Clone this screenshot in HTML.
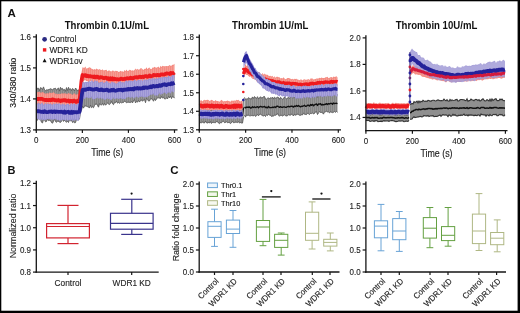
<!DOCTYPE html>
<html><head><meta charset="utf-8"><style>
html,body{margin:0;padding:0;width:520px;height:313px;overflow:hidden;background:#fff}
text{font-family:"Liberation Sans", sans-serif}
svg{will-change:transform}
</style></head><body>
<svg width="520" height="313" viewBox="0 0 520 313" style="position:absolute;left:0;top:0"><g font-family='"Liberation Sans", sans-serif'><rect x="0" y="0" width="520" height="313" fill="#fff"/><polygon points="36.50,90.06 37.50,88.18 38.50,88.26 39.50,90.55 40.50,87.62 41.50,88.07 42.50,89.52 43.50,86.90 44.50,89.90 45.50,90.73 46.50,89.71 47.50,89.99 48.50,89.57 49.50,89.32 50.50,88.71 51.50,89.02 52.50,90.18 53.50,88.70 54.50,88.49 55.50,88.25 56.50,90.32 57.50,88.84 58.50,87.84 59.50,90.95 60.50,87.34 61.50,89.09 62.50,88.38 63.50,90.08 64.50,89.38 65.50,91.20 66.50,87.61 67.50,90.43 68.50,87.30 69.50,89.68 70.50,88.63 71.50,90.52 72.50,88.54 73.50,89.25 74.50,90.99 75.50,88.01 76.50,89.22 77.50,90.90 78.50,89.83 79.50,90.20 80.50,91.02 81.50,87.99 82.50,83.97 83.50,82.76 84.50,84.38 85.50,84.15 86.50,85.57 87.50,84.70 88.50,85.07 89.50,83.58 90.50,83.45 91.50,83.69 92.50,83.54 93.50,82.90 94.50,82.72 95.50,82.98 96.50,82.20 97.50,81.46 98.50,81.60 99.50,82.34 100.50,81.93 101.50,81.35 102.50,80.88 103.50,80.44 104.50,81.44 105.50,81.67 106.50,81.63 107.50,80.63 108.50,80.51 109.50,81.43 110.50,80.37 111.50,80.89 112.50,80.27 113.50,80.68 114.50,80.99 115.50,80.02 116.50,79.48 117.50,80.63 118.50,78.74 119.50,80.19 120.50,80.67 121.50,80.11 122.50,78.91 123.50,79.83 124.50,78.68 125.50,79.93 126.50,79.59 127.50,78.55 128.50,79.24 129.50,79.45 130.50,77.86 131.50,78.39 132.50,77.78 133.50,78.98 134.50,78.49 135.50,78.04 136.50,77.28 137.50,76.76 138.50,76.62 139.50,76.85 140.50,77.57 141.50,78.32 142.50,79.26 143.50,78.71 144.50,77.72 145.50,77.53 146.50,77.28 147.50,78.25 148.50,76.04 149.50,77.51 150.50,76.58 151.50,75.69 152.50,75.01 153.50,78.13 154.50,74.99 155.50,76.07 156.50,76.87 157.50,76.77 158.50,76.15 159.50,75.12 160.50,76.71 161.50,75.63 162.50,75.93 163.50,74.46 164.50,76.09 165.50,76.08 166.50,74.30 167.50,75.06 168.50,75.11 169.50,75.20 170.50,75.05 171.50,74.16 172.50,74.65 173.50,75.00 174.50,72.63 174.50,98.21 173.50,97.01 172.50,96.38 171.50,98.58 170.50,95.95 169.50,97.93 168.50,96.35 167.50,98.98 166.50,97.97 165.50,98.84 164.50,98.91 163.50,97.28 162.50,98.08 161.50,96.52 160.50,98.46 159.50,98.08 158.50,97.84 157.50,97.78 156.50,99.06 155.50,100.52 154.50,98.71 153.50,101.24 152.50,99.49 151.50,98.91 150.50,98.78 149.50,100.97 148.50,101.02 147.50,99.54 146.50,98.28 145.50,102.70 144.50,99.39 143.50,100.03 142.50,101.27 141.50,100.03 140.50,100.46 139.50,102.07 138.50,100.38 137.50,102.14 136.50,101.30 135.50,102.96 134.50,99.53 133.50,100.89 132.50,102.91 131.50,101.70 130.50,102.54 129.50,102.44 128.50,102.29 127.50,102.36 126.50,102.80 125.50,101.63 124.50,101.13 123.50,102.47 122.50,102.55 121.50,102.85 120.50,102.33 119.50,103.29 118.50,102.46 117.50,103.15 116.50,101.14 115.50,102.66 114.50,102.52 113.50,104.68 112.50,103.71 111.50,101.49 110.50,103.28 109.50,104.60 108.50,103.94 107.50,103.14 106.50,104.08 105.50,105.21 104.50,103.39 103.50,105.31 102.50,103.30 101.50,105.11 100.50,104.61 99.50,103.82 98.50,107.19 97.50,105.39 96.50,103.92 95.50,104.17 94.50,105.45 93.50,107.70 92.50,106.85 91.50,107.64 90.50,105.09 89.50,108.07 88.50,107.03 87.50,106.67 86.50,106.27 85.50,106.04 84.50,106.05 83.50,108.14 82.50,106.18 81.50,110.17 80.50,112.22 79.50,118.94 78.50,119.92 77.50,119.55 76.50,119.31 75.50,122.59 74.50,122.82 73.50,121.76 72.50,122.53 71.50,120.31 70.50,120.92 69.50,119.41 68.50,122.53 67.50,121.26 66.50,122.31 65.50,121.40 64.50,119.99 63.50,121.42 62.50,118.96 61.50,121.30 60.50,122.47 59.50,122.04 58.50,121.44 57.50,120.98 56.50,122.35 55.50,121.55 54.50,118.67 53.50,121.38 52.50,123.21 51.50,122.56 50.50,120.49 49.50,120.37 48.50,120.57 47.50,119.17 46.50,121.41 45.50,121.82 44.50,119.70 43.50,119.47 42.50,122.95 41.50,122.28 40.50,119.43 39.50,119.32 38.50,118.52 37.50,119.80 36.50,121.30" fill="#858585" opacity="1.0"/><path d="M37.50,88.98V119.00M39.50,91.35V118.52M41.50,88.87V121.48M43.50,87.70V118.67M45.50,91.53V121.02M47.50,90.79V118.37M49.50,90.12V119.57M51.50,89.82V121.76M53.50,89.50V120.58M55.50,89.05V120.75M57.50,89.64V120.18M59.50,91.75V121.24M61.50,89.89V120.50M63.50,90.88V120.62M65.50,92.00V120.60M67.50,91.23V120.46M69.50,90.48V118.61M71.50,91.32V119.51M73.50,90.05V120.96M75.50,88.81V121.79M77.50,91.70V118.75M79.50,91.00V118.14M81.50,88.79V109.37M83.50,83.56V107.34M85.50,84.95V105.24M87.50,85.50V105.87M89.50,84.38V107.27M91.50,84.49V106.84M93.50,83.70V106.90M95.50,83.78V103.37M97.50,82.26V104.59M99.50,83.14V103.02M101.50,82.15V104.31M103.50,81.24V104.51M105.50,82.47V104.41M107.50,81.43V102.34M109.50,82.23V103.80M111.50,81.69V100.69M113.50,81.48V103.88M115.50,80.82V101.86M117.50,81.43V102.35M119.50,80.99V102.49M121.50,80.91V102.05M123.50,80.63V101.67M125.50,80.73V100.83M127.50,79.35V101.56M129.50,80.25V101.64M131.50,79.19V100.90M133.50,79.78V100.09M135.50,78.84V102.16M137.50,77.56V101.34M139.50,77.65V101.27M141.50,79.12V99.23M143.50,79.51V99.23M145.50,78.33V101.90M147.50,79.05V98.74M149.50,78.31V100.17M151.50,76.49V98.11M153.50,78.93V100.44M155.50,76.87V99.72M157.50,77.57V96.98M159.50,75.92V97.28M161.50,76.43V95.72M163.50,75.26V96.48M165.50,76.88V98.04M167.50,75.86V98.18M169.50,76.00V97.13M171.50,74.96V97.78M173.50,75.80V96.21" stroke="#ddd" stroke-width="0.6" opacity="0.35"/><path d="M36.50,90.06 L37.50,88.18 L38.50,88.26 L39.50,90.55 L40.50,87.62 L41.50,88.07 L42.50,89.52 L43.50,86.90 L44.50,89.90 L45.50,90.73 L46.50,89.71 L47.50,89.99 L48.50,89.57 L49.50,89.32 L50.50,88.71 L51.50,89.02 L52.50,90.18 L53.50,88.70 L54.50,88.49 L55.50,88.25 L56.50,90.32 L57.50,88.84 L58.50,87.84 L59.50,90.95 L60.50,87.34 L61.50,89.09 L62.50,88.38 L63.50,90.08 L64.50,89.38 L65.50,91.20 L66.50,87.61 L67.50,90.43 L68.50,87.30 L69.50,89.68 L70.50,88.63 L71.50,90.52 L72.50,88.54 L73.50,89.25 L74.50,90.99 L75.50,88.01 L76.50,89.22 L77.50,90.90 L78.50,89.83 L79.50,90.20 L80.50,91.02 L81.50,87.99 L82.50,83.97 L83.50,82.76 L84.50,84.38 L85.50,84.15 L86.50,85.57 L87.50,84.70 L88.50,85.07 L89.50,83.58 L90.50,83.45 L91.50,83.69 L92.50,83.54 L93.50,82.90 L94.50,82.72 L95.50,82.98 L96.50,82.20 L97.50,81.46 L98.50,81.60 L99.50,82.34 L100.50,81.93 L101.50,81.35 L102.50,80.88 L103.50,80.44 L104.50,81.44 L105.50,81.67 L106.50,81.63 L107.50,80.63 L108.50,80.51 L109.50,81.43 L110.50,80.37 L111.50,80.89 L112.50,80.27 L113.50,80.68 L114.50,80.99 L115.50,80.02 L116.50,79.48 L117.50,80.63 L118.50,78.74 L119.50,80.19 L120.50,80.67 L121.50,80.11 L122.50,78.91 L123.50,79.83 L124.50,78.68 L125.50,79.93 L126.50,79.59 L127.50,78.55 L128.50,79.24 L129.50,79.45 L130.50,77.86 L131.50,78.39 L132.50,77.78 L133.50,78.98 L134.50,78.49 L135.50,78.04 L136.50,77.28 L137.50,76.76 L138.50,76.62 L139.50,76.85 L140.50,77.57 L141.50,78.32 L142.50,79.26 L143.50,78.71 L144.50,77.72 L145.50,77.53 L146.50,77.28 L147.50,78.25 L148.50,76.04 L149.50,77.51 L150.50,76.58 L151.50,75.69 L152.50,75.01 L153.50,78.13 L154.50,74.99 L155.50,76.07 L156.50,76.87 L157.50,76.77 L158.50,76.15 L159.50,75.12 L160.50,76.71 L161.50,75.63 L162.50,75.93 L163.50,74.46 L164.50,76.09 L165.50,76.08 L166.50,74.30 L167.50,75.06 L168.50,75.11 L169.50,75.20 L170.50,75.05 L171.50,74.16 L172.50,74.65 L173.50,75.00 L174.50,72.63" fill="none" stroke="#5a5a5a" stroke-width="0.9"/><path d="M36.50,121.30 L37.50,119.80 L38.50,118.52 L39.50,119.32 L40.50,119.43 L41.50,122.28 L42.50,122.95 L43.50,119.47 L44.50,119.70 L45.50,121.82 L46.50,121.41 L47.50,119.17 L48.50,120.57 L49.50,120.37 L50.50,120.49 L51.50,122.56 L52.50,123.21 L53.50,121.38 L54.50,118.67 L55.50,121.55 L56.50,122.35 L57.50,120.98 L58.50,121.44 L59.50,122.04 L60.50,122.47 L61.50,121.30 L62.50,118.96 L63.50,121.42 L64.50,119.99 L65.50,121.40 L66.50,122.31 L67.50,121.26 L68.50,122.53 L69.50,119.41 L70.50,120.92 L71.50,120.31 L72.50,122.53 L73.50,121.76 L74.50,122.82 L75.50,122.59 L76.50,119.31 L77.50,119.55 L78.50,119.92 L79.50,118.94 L80.50,112.22 L81.50,110.17 L82.50,106.18 L83.50,108.14 L84.50,106.05 L85.50,106.04 L86.50,106.27 L87.50,106.67 L88.50,107.03 L89.50,108.07 L90.50,105.09 L91.50,107.64 L92.50,106.85 L93.50,107.70 L94.50,105.45 L95.50,104.17 L96.50,103.92 L97.50,105.39 L98.50,107.19 L99.50,103.82 L100.50,104.61 L101.50,105.11 L102.50,103.30 L103.50,105.31 L104.50,103.39 L105.50,105.21 L106.50,104.08 L107.50,103.14 L108.50,103.94 L109.50,104.60 L110.50,103.28 L111.50,101.49 L112.50,103.71 L113.50,104.68 L114.50,102.52 L115.50,102.66 L116.50,101.14 L117.50,103.15 L118.50,102.46 L119.50,103.29 L120.50,102.33 L121.50,102.85 L122.50,102.55 L123.50,102.47 L124.50,101.13 L125.50,101.63 L126.50,102.80 L127.50,102.36 L128.50,102.29 L129.50,102.44 L130.50,102.54 L131.50,101.70 L132.50,102.91 L133.50,100.89 L134.50,99.53 L135.50,102.96 L136.50,101.30 L137.50,102.14 L138.50,100.38 L139.50,102.07 L140.50,100.46 L141.50,100.03 L142.50,101.27 L143.50,100.03 L144.50,99.39 L145.50,102.70 L146.50,98.28 L147.50,99.54 L148.50,101.02 L149.50,100.97 L150.50,98.78 L151.50,98.91 L152.50,99.49 L153.50,101.24 L154.50,98.71 L155.50,100.52 L156.50,99.06 L157.50,97.78 L158.50,97.84 L159.50,98.08 L160.50,98.46 L161.50,96.52 L162.50,98.08 L163.50,97.28 L164.50,98.91 L165.50,98.84 L166.50,97.97 L167.50,98.98 L168.50,96.35 L169.50,97.93 L170.50,95.95 L171.50,98.58 L172.50,96.38 L173.50,97.01 L174.50,98.21" fill="none" stroke="#5a5a5a" stroke-width="0.9"/><path d="M36.50,104.72 L37.50,104.32 L38.50,104.29 L39.50,104.89 L40.50,104.88 L41.50,104.56 L42.50,105.12 L43.50,104.27 L44.50,104.43 L45.50,105.51 L46.50,105.22 L47.50,104.30 L48.50,105.29 L49.50,105.14 L50.50,105.47 L51.50,105.12 L52.50,105.37 L53.50,104.39 L54.50,104.44 L55.50,105.27 L56.50,105.60 L57.50,105.15 L58.50,105.54 L59.50,105.26 L60.50,105.24 L61.50,104.66 L62.50,104.24 L63.50,104.39 L64.50,104.41 L65.50,105.59 L66.50,105.08 L67.50,105.58 L68.50,104.77 L69.50,104.44 L70.50,104.57 L71.50,104.62 L72.50,104.79 L73.50,105.30 L74.50,105.28 L75.50,105.45 L76.50,104.83 L77.50,105.21 L78.50,104.53 L79.50,104.28 L80.50,100.70 L81.50,98.27 L82.50,93.60 L83.50,93.60 L84.50,94.35 L85.50,93.77 L86.50,94.76 L87.50,94.77 L88.50,93.94 L89.50,94.46 L90.50,93.13 L91.50,93.77 L92.50,92.88 L93.50,93.75 L94.50,93.30 L95.50,92.64 L96.50,91.67 L97.50,92.56 L98.50,92.77 L99.50,91.67 L100.50,91.22 L101.50,92.17 L102.50,91.59 L103.50,91.43 L104.50,91.39 L105.50,91.27 L106.50,91.38 L107.50,91.16 L108.50,89.67 L109.50,90.58 L110.50,90.74 L111.50,90.00 L112.50,90.63 L113.50,90.52 L114.50,90.30 L115.50,89.39 L116.50,89.29 L117.50,90.28 L118.50,89.71 L119.50,90.19 L120.50,89.51 L121.50,88.92 L122.50,88.85 L123.50,89.42 L124.50,89.36 L125.50,89.32 L126.50,89.61 L127.50,89.54 L128.50,89.26 L129.50,89.33 L130.50,88.91 L131.50,89.45 L132.50,88.85 L133.50,88.07 L134.50,87.87 L135.50,88.72 L136.50,87.80 L137.50,87.68 L138.50,87.70 L139.50,88.03 L140.50,87.41 L141.50,87.59 L142.50,88.11 L143.50,87.55 L144.50,87.75 L145.50,88.23 L146.50,86.72 L147.50,87.70 L148.50,87.03 L149.50,86.66 L150.50,87.06 L151.50,86.14 L152.50,86.07 L153.50,87.13 L154.50,85.86 L155.50,86.19 L156.50,85.98 L157.50,85.83 L158.50,85.43 L159.50,85.74 L160.50,85.94 L161.50,85.03 L162.50,86.05 L163.50,85.51 L164.50,85.93 L165.50,85.82 L166.50,85.46 L167.50,85.56 L168.50,84.74 L169.50,84.17 L170.50,84.25 L171.50,85.05 L172.50,84.03 L173.50,84.18 L174.50,83.74" fill="none" stroke="#555" stroke-width="1.0" stroke-linejoin="round" opacity="1.0"/><polygon points="36.50,92.51 37.50,92.10 38.50,92.04 39.50,91.83 40.50,92.66 41.50,92.57 42.50,91.91 43.50,92.47 44.50,93.13 45.50,93.72 46.50,93.54 47.50,92.92 48.50,93.70 49.50,92.22 50.50,93.08 51.50,92.79 52.50,93.00 53.50,91.97 54.50,93.00 55.50,93.94 56.50,93.47 57.50,94.16 58.50,93.71 59.50,94.12 60.50,93.99 61.50,93.13 62.50,93.42 63.50,93.57 64.50,93.29 65.50,93.56 66.50,93.69 67.50,93.89 68.50,92.75 69.50,93.77 70.50,93.40 71.50,94.37 72.50,95.12 73.50,93.68 74.50,93.23 75.50,94.39 76.50,94.83 77.50,93.80 78.50,94.81 79.50,93.71 80.50,82.63 81.50,72.56 82.50,67.24 83.50,67.78 84.50,67.80 85.50,66.43 86.50,68.65 87.50,68.36 88.50,67.68 89.50,67.37 90.50,67.78 91.50,68.65 92.50,69.00 93.50,69.78 94.50,68.89 95.50,69.85 96.50,68.61 97.50,69.35 98.50,69.72 99.50,68.90 100.50,69.66 101.50,70.24 102.50,69.35 103.50,70.38 104.50,70.32 105.50,70.09 106.50,69.87 107.50,71.44 108.50,70.49 109.50,70.61 110.50,71.15 111.50,71.40 112.50,70.53 113.50,70.68 114.50,71.47 115.50,70.75 116.50,71.11 117.50,71.02 118.50,72.08 119.50,71.83 120.50,70.69 121.50,71.49 122.50,71.34 123.50,71.98 124.50,69.88 125.50,71.20 126.50,69.40 127.50,71.16 128.50,70.73 129.50,69.64 130.50,69.90 131.50,70.83 132.50,70.20 133.50,70.74 134.50,69.92 135.50,68.48 136.50,69.64 137.50,68.71 138.50,69.69 139.50,69.59 140.50,68.15 141.50,68.25 142.50,69.21 143.50,69.89 144.50,68.68 145.50,69.03 146.50,67.30 147.50,69.36 148.50,67.89 149.50,67.52 150.50,68.99 151.50,69.16 152.50,67.52 153.50,67.83 154.50,66.67 155.50,67.56 156.50,67.80 157.50,67.30 158.50,66.48 159.50,68.30 160.50,65.83 161.50,66.95 162.50,65.65 163.50,66.25 164.50,66.34 165.50,66.13 166.50,66.03 167.50,66.36 168.50,66.09 169.50,65.09 170.50,65.71 171.50,65.66 172.50,64.85 173.50,64.68 174.50,63.81 174.50,77.69 173.50,79.06 172.50,78.81 171.50,78.71 170.50,78.44 169.50,79.22 168.50,79.89 167.50,78.41 166.50,79.28 165.50,79.74 164.50,79.82 163.50,80.63 162.50,79.55 161.50,79.88 160.50,80.80 159.50,80.54 158.50,80.96 157.50,79.71 156.50,81.13 155.50,81.23 154.50,81.17 153.50,81.04 152.50,80.93 151.50,81.64 150.50,81.72 149.50,80.80 148.50,81.92 147.50,82.11 146.50,81.18 145.50,81.28 144.50,81.71 143.50,82.71 142.50,82.68 141.50,83.28 140.50,82.92 139.50,81.64 138.50,83.26 137.50,82.61 136.50,82.50 135.50,82.84 134.50,83.23 133.50,84.30 132.50,83.32 131.50,84.15 130.50,82.98 129.50,83.60 128.50,83.75 127.50,83.74 126.50,84.05 125.50,84.31 124.50,84.45 123.50,84.27 122.50,84.26 121.50,84.20 120.50,84.71 119.50,84.46 118.50,85.62 117.50,84.02 116.50,85.24 115.50,85.18 114.50,83.77 113.50,85.49 112.50,84.39 111.50,84.96 110.50,84.03 109.50,85.27 108.50,83.72 107.50,84.09 106.50,83.54 105.50,83.78 104.50,83.37 103.50,83.60 102.50,83.50 101.50,82.61 100.50,82.03 99.50,83.29 98.50,82.85 97.50,81.81 96.50,82.08 95.50,83.10 94.50,82.31 93.50,82.53 92.50,81.49 91.50,82.39 90.50,81.11 89.50,82.24 88.50,82.33 87.50,81.10 86.50,81.36 85.50,80.29 84.50,80.27 83.50,81.26 82.50,80.36 81.50,87.00 80.50,96.28 79.50,106.12 78.50,106.50 77.50,106.22 76.50,106.68 75.50,106.88 74.50,106.28 73.50,106.82 72.50,107.24 71.50,106.10 70.50,107.05 69.50,106.36 68.50,105.51 67.50,106.29 66.50,106.21 65.50,105.90 64.50,105.26 63.50,105.98 62.50,105.61 61.50,106.29 60.50,106.32 59.50,106.44 58.50,105.19 57.50,106.24 56.50,106.02 55.50,106.00 54.50,105.96 53.50,105.11 52.50,104.70 51.50,105.25 50.50,106.24 49.50,105.68 48.50,105.62 47.50,105.94 46.50,105.72 45.50,105.92 44.50,105.21 43.50,105.52 42.50,104.59 41.50,104.01 40.50,104.34 39.50,103.69 38.50,104.51 37.50,103.70 36.50,105.20" fill="#f48a80" opacity="1.0"/><path d="M37.50,92.90V102.90M39.50,92.63V102.89M41.50,93.37V103.21M43.50,93.27V104.72M45.50,94.52V105.12M47.50,93.72V105.14M49.50,93.02V104.88M51.50,93.59V104.45M53.50,92.77V104.31M55.50,94.74V105.20M57.50,94.96V105.44M59.50,94.92V105.64M61.50,93.93V105.49M63.50,94.37V105.18M65.50,94.36V105.10M67.50,94.69V105.49M69.50,94.57V105.56M71.50,95.17V105.30M73.50,94.48V106.02M75.50,95.19V106.08M77.50,94.60V105.42M79.50,94.51V105.32M81.50,73.36V86.20M83.50,68.58V80.46M85.50,67.23V79.49M87.50,69.16V80.30M89.50,68.17V81.44M91.50,69.45V81.59M93.50,70.58V81.73M95.50,70.65V82.30M97.50,70.15V81.01M99.50,69.70V82.49M101.50,71.04V81.81M103.50,71.18V82.80M105.50,70.89V82.98M107.50,72.24V83.29M109.50,71.41V84.47M111.50,72.20V84.16M113.50,71.48V84.69M115.50,71.55V84.38M117.50,71.82V83.22M119.50,72.63V83.66M121.50,72.29V83.40M123.50,72.78V83.47M125.50,72.00V83.51M127.50,71.96V82.94M129.50,70.44V82.80M131.50,71.63V83.35M133.50,71.54V83.50M135.50,69.28V82.04M137.50,69.51V81.81M139.50,70.39V80.84M141.50,69.05V82.48M143.50,70.69V81.91M145.50,69.83V80.48M147.50,70.16V81.31M149.50,68.32V80.00M151.50,69.96V80.84M153.50,68.63V80.24M155.50,68.36V80.43M157.50,68.10V78.91M159.50,69.10V79.74M161.50,67.75V79.08M163.50,67.05V79.83M165.50,66.93V78.94M167.50,67.16V77.61M169.50,65.89V78.42M171.50,66.46V77.91M173.50,65.48V78.26" stroke="#fff" stroke-width="0.6" opacity="0.25"/><path d="M36.50,99.09 L37.50,98.86 L38.50,99.00 L39.50,98.84 L40.50,98.98 L41.50,98.77 L42.50,99.05 L43.50,99.73 L44.50,99.94 L45.50,100.13 L46.50,99.78 L47.50,100.13 L48.50,100.09 L49.50,99.78 L50.50,100.23 L51.50,100.11 L52.50,99.39 L53.50,99.53 L54.50,100.22 L55.50,100.11 L56.50,100.48 L57.50,100.43 L58.50,100.00 L59.50,100.63 L60.50,100.98 L61.50,100.44 L62.50,100.66 L63.50,100.16 L64.50,100.40 L65.50,100.17 L66.50,100.98 L67.50,100.83 L68.50,100.41 L69.50,101.50 L70.50,100.93 L71.50,100.98 L72.50,101.63 L73.50,100.73 L74.50,100.77 L75.50,101.73 L76.50,101.80 L77.50,100.79 L78.50,101.20 L79.50,101.28 L80.50,91.28 L81.50,80.97 L82.50,75.00 L83.50,75.95 L84.50,75.36 L85.50,75.07 L86.50,76.17 L87.50,75.76 L88.50,76.42 L89.50,76.16 L90.50,76.20 L91.50,76.56 L92.50,76.59 L93.50,77.06 L94.50,76.50 L95.50,77.39 L96.50,76.72 L97.50,76.70 L98.50,77.72 L99.50,77.86 L100.50,77.07 L101.50,77.45 L102.50,77.49 L103.50,78.21 L104.50,78.08 L105.50,77.66 L106.50,77.87 L107.50,78.89 L108.50,78.29 L109.50,79.28 L110.50,78.25 L111.50,79.35 L112.50,78.33 L113.50,79.37 L114.50,78.72 L115.50,79.10 L116.50,79.39 L117.50,79.12 L118.50,79.56 L119.50,79.45 L120.50,78.95 L121.50,78.67 L122.50,79.12 L123.50,79.04 L124.50,78.76 L125.50,79.16 L126.50,78.28 L127.50,78.24 L128.50,78.57 L129.50,78.46 L130.50,77.59 L131.50,78.25 L132.50,78.21 L133.50,78.38 L134.50,77.38 L135.50,77.35 L136.50,77.11 L137.50,77.57 L138.50,77.14 L139.50,76.73 L140.50,76.91 L141.50,77.21 L142.50,76.61 L143.50,76.99 L144.50,76.44 L145.50,76.07 L146.50,76.17 L147.50,76.79 L148.50,76.51 L149.50,75.47 L150.50,76.40 L151.50,76.25 L152.50,76.04 L153.50,74.99 L154.50,75.14 L155.50,75.12 L156.50,75.34 L157.50,74.87 L158.50,75.28 L159.50,75.39 L160.50,74.71 L161.50,74.47 L162.50,74.47 L163.50,74.71 L164.50,74.54 L165.50,73.87 L166.50,73.45 L167.50,73.52 L168.50,73.76 L169.50,74.03 L170.50,72.94 L171.50,73.56 L172.50,73.08 L173.50,73.34 L174.50,72.46" fill="none" stroke="#ee1a1f" stroke-width="3.8" stroke-linejoin="round" opacity="1.0"/><polygon points="36.50,103.84 37.50,103.66 38.50,102.40 39.50,103.57 40.50,104.13 41.50,102.87 42.50,103.01 43.50,105.05 44.50,103.83 45.50,102.99 46.50,104.28 47.50,103.24 48.50,103.67 49.50,104.34 50.50,103.35 51.50,104.44 52.50,104.70 53.50,102.98 54.50,104.17 55.50,103.74 56.50,103.19 57.50,104.10 58.50,103.66 59.50,103.24 60.50,104.48 61.50,104.68 62.50,103.40 63.50,104.67 64.50,103.47 65.50,105.46 66.50,104.04 67.50,103.92 68.50,103.80 69.50,105.41 70.50,103.91 71.50,102.96 72.50,104.59 73.50,103.41 74.50,103.61 75.50,104.57 76.50,104.68 77.50,103.72 78.50,103.81 79.50,103.30 80.50,97.02 81.50,89.42 82.50,81.61 83.50,82.66 84.50,82.13 85.50,81.87 86.50,82.00 87.50,81.79 88.50,81.92 89.50,80.14 90.50,82.02 91.50,80.19 92.50,80.74 93.50,82.29 94.50,80.50 95.50,80.49 96.50,81.27 97.50,80.39 98.50,82.68 99.50,82.74 100.50,82.09 101.50,82.07 102.50,81.31 103.50,83.00 104.50,82.41 105.50,81.95 106.50,80.67 107.50,81.45 108.50,82.65 109.50,82.70 110.50,83.46 111.50,81.74 112.50,82.09 113.50,82.60 114.50,82.57 115.50,83.48 116.50,83.40 117.50,82.88 118.50,81.81 119.50,81.71 120.50,80.97 121.50,82.51 122.50,81.95 123.50,82.61 124.50,82.21 125.50,80.84 126.50,80.57 127.50,81.77 128.50,80.38 129.50,80.56 130.50,80.68 131.50,80.72 132.50,81.20 133.50,80.87 134.50,79.60 135.50,80.24 136.50,81.08 137.50,80.31 138.50,80.02 139.50,79.97 140.50,80.53 141.50,79.37 142.50,81.34 143.50,79.03 144.50,80.30 145.50,79.83 146.50,79.18 147.50,79.88 148.50,78.66 149.50,79.10 150.50,78.25 151.50,79.87 152.50,77.25 153.50,78.89 154.50,78.24 155.50,79.25 156.50,77.22 157.50,79.15 158.50,77.35 159.50,77.96 160.50,77.24 161.50,77.39 162.50,77.39 163.50,76.93 164.50,76.66 165.50,77.12 166.50,76.99 167.50,77.32 168.50,75.52 169.50,76.13 170.50,77.02 171.50,76.20 172.50,74.87 173.50,75.31 174.50,74.78 174.50,91.24 173.50,92.72 172.50,91.54 171.50,91.41 170.50,93.71 169.50,92.40 168.50,92.52 167.50,93.04 166.50,94.54 165.50,93.29 164.50,92.54 163.50,93.22 162.50,93.96 161.50,94.00 160.50,94.92 159.50,93.03 158.50,94.18 157.50,95.90 156.50,95.30 155.50,95.41 154.50,95.72 153.50,93.81 152.50,94.55 151.50,94.98 150.50,94.39 149.50,95.63 148.50,96.01 147.50,97.34 146.50,96.70 145.50,96.99 144.50,97.57 143.50,97.23 142.50,96.70 141.50,96.46 140.50,96.88 139.50,96.73 138.50,97.93 137.50,97.32 136.50,96.56 135.50,97.41 134.50,97.58 133.50,98.67 132.50,96.67 131.50,97.43 130.50,97.70 129.50,97.46 128.50,96.69 127.50,97.83 126.50,97.19 125.50,98.98 124.50,99.03 123.50,98.77 122.50,99.09 121.50,98.82 120.50,98.07 119.50,98.69 118.50,98.96 117.50,98.62 116.50,98.23 115.50,99.00 114.50,99.27 113.50,97.76 112.50,98.81 111.50,99.83 110.50,100.07 109.50,98.71 108.50,99.30 107.50,98.33 106.50,98.69 105.50,99.71 104.50,99.73 103.50,99.12 102.50,98.17 101.50,99.14 100.50,97.57 99.50,98.48 98.50,98.80 97.50,97.48 96.50,98.32 95.50,98.75 94.50,99.05 93.50,99.52 92.50,98.98 91.50,97.09 90.50,97.97 89.50,97.97 88.50,98.13 87.50,97.69 86.50,97.26 85.50,97.91 84.50,98.98 83.50,98.80 82.50,98.60 81.50,106.24 80.50,114.19 79.50,119.21 78.50,120.42 77.50,120.91 76.50,119.73 75.50,119.84 74.50,120.90 73.50,119.42 72.50,121.45 71.50,119.56 70.50,120.79 69.50,120.11 68.50,120.36 67.50,120.78 66.50,119.37 65.50,120.90 64.50,119.84 63.50,119.94 62.50,119.84 61.50,120.50 60.50,120.34 59.50,120.89 58.50,119.52 57.50,120.60 56.50,119.39 55.50,119.22 54.50,119.20 53.50,119.64 52.50,119.73 51.50,119.17 50.50,119.83 49.50,119.08 48.50,119.36 47.50,119.34 46.50,119.72 45.50,119.57 44.50,120.15 43.50,119.77 42.50,120.27 41.50,119.05 40.50,120.20 39.50,120.32 38.50,119.29 37.50,118.68 36.50,120.05" fill="#9a93d4" opacity="1.0"/><path d="M37.50,104.46V117.88M39.50,104.37V119.52M41.50,103.67V118.25M43.50,105.85V118.97M45.50,103.79V118.77M47.50,104.04V118.54M49.50,105.14V118.28M51.50,105.24V118.37M53.50,103.78V118.84M55.50,104.54V118.42M57.50,104.90V119.80M59.50,104.04V120.09M61.50,105.48V119.70M63.50,105.47V119.14M65.50,106.26V120.10M67.50,104.72V119.98M69.50,106.21V119.31M71.50,103.76V118.76M73.50,104.21V118.62M75.50,105.37V119.04M77.50,104.52V120.11M79.50,104.10V118.41M81.50,90.22V105.44M83.50,83.46V98.00M85.50,82.67V97.11M87.50,82.59V96.89M89.50,80.94V97.17M91.50,80.99V96.29M93.50,83.09V98.72M95.50,81.29V97.95M97.50,81.19V96.68M99.50,83.54V97.68M101.50,82.87V98.34M103.50,83.80V98.32M105.50,82.75V98.91M107.50,82.25V97.53M109.50,83.50V97.91M111.50,82.54V99.03M113.50,83.40V96.96M115.50,84.28V98.20M117.50,83.68V97.82M119.50,82.51V97.89M121.50,83.31V98.02M123.50,83.41V97.97M125.50,81.64V98.18M127.50,82.57V97.03M129.50,81.36V96.66M131.50,81.52V96.63M133.50,81.67V97.87M135.50,81.04V96.61M137.50,81.11V96.52M139.50,80.77V95.93M141.50,80.17V95.66M143.50,79.83V96.43M145.50,80.63V96.19M147.50,80.68V96.54M149.50,79.90V94.83M151.50,80.67V94.18M153.50,79.69V93.01M155.50,80.05V94.61M157.50,79.95V95.10M159.50,78.76V92.23M161.50,78.19V93.20M163.50,77.73V92.42M165.50,77.92V92.49M167.50,78.12V92.24M169.50,76.93V91.60M171.50,77.00V90.61M173.50,76.11V91.92" stroke="#fff" stroke-width="0.6" opacity="0.25"/><path d="M36.50,111.59 L37.50,111.17 L38.50,111.14 L39.50,111.37 L40.50,111.61 L41.50,111.81 L42.50,111.62 L43.50,112.17 L44.50,111.24 L45.50,111.82 L46.50,112.18 L47.50,112.10 L48.50,111.90 L49.50,111.65 L50.50,111.54 L51.50,111.50 L52.50,112.09 L53.50,111.55 L54.50,111.40 L55.50,112.01 L56.50,111.57 L57.50,111.73 L58.50,111.79 L59.50,111.94 L60.50,111.90 L61.50,111.73 L62.50,112.02 L63.50,112.59 L64.50,111.57 L65.50,112.67 L66.50,112.05 L67.50,111.96 L68.50,111.78 L69.50,112.83 L70.50,112.82 L71.50,111.78 L72.50,112.82 L73.50,111.95 L74.50,112.27 L75.50,112.03 L76.50,112.45 L77.50,112.15 L78.50,111.93 L79.50,111.95 L80.50,105.12 L81.50,97.27 L82.50,89.91 L83.50,89.74 L84.50,89.62 L85.50,89.79 L86.50,89.24 L87.50,89.01 L88.50,89.04 L89.50,88.59 L90.50,89.16 L91.50,89.06 L92.50,89.69 L93.50,89.70 L94.50,89.37 L95.50,89.04 L96.50,88.98 L97.50,89.15 L98.50,90.00 L99.50,90.18 L100.50,89.75 L101.50,89.42 L102.50,90.07 L103.50,90.26 L104.50,90.14 L105.50,90.10 L106.50,89.62 L107.50,90.03 L108.50,90.80 L109.50,90.59 L110.50,90.59 L111.50,90.00 L112.50,90.40 L113.50,89.70 L114.50,90.44 L115.50,90.77 L116.50,90.48 L117.50,90.13 L118.50,89.97 L119.50,89.95 L120.50,89.81 L121.50,89.73 L122.50,90.50 L123.50,89.67 L124.50,89.92 L125.50,89.68 L126.50,89.35 L127.50,89.59 L128.50,88.92 L129.50,89.41 L130.50,88.89 L131.50,89.32 L132.50,88.82 L133.50,89.42 L134.50,88.26 L135.50,88.71 L136.50,88.32 L137.50,88.00 L138.50,88.68 L139.50,88.07 L140.50,88.58 L141.50,88.26 L142.50,88.41 L143.50,87.49 L144.50,87.97 L145.50,87.32 L146.50,87.55 L147.50,87.82 L148.50,87.35 L149.50,87.24 L150.50,86.48 L151.50,87.18 L152.50,86.08 L153.50,85.98 L154.50,86.50 L155.50,86.41 L156.50,85.83 L157.50,86.32 L158.50,86.21 L159.50,85.22 L160.50,85.84 L161.50,85.65 L162.50,84.61 L163.50,84.58 L164.50,84.19 L165.50,84.87 L166.50,85.00 L167.50,84.42 L168.50,84.04 L169.50,84.20 L170.50,84.23 L171.50,83.24 L172.50,83.79 L173.50,83.30 L174.50,82.77" fill="none" stroke="#25229a" stroke-width="3.8" stroke-linejoin="round" opacity="1.0"/><line x1="36.30" y1="34.30" x2="36.30" y2="130.55" stroke="#151515" stroke-width="1.3"/><line x1="33.00" y1="36.90" x2="36.30" y2="36.90" stroke="#151515" stroke-width="1.2"/><text x="31.00" y="39.90" font-size="8.96" text-anchor="end" font-weight="normal" fill="#222" textLength="11.12" lengthAdjust="spacingAndGlyphs" stroke="#222" stroke-width="0.12">1.6</text><line x1="33.00" y1="67.90" x2="36.30" y2="67.90" stroke="#151515" stroke-width="1.2"/><text x="31.00" y="70.90" font-size="8.96" text-anchor="end" font-weight="normal" fill="#222" textLength="11.12" lengthAdjust="spacingAndGlyphs" stroke="#222" stroke-width="0.12">1.5</text><line x1="33.00" y1="98.90" x2="36.30" y2="98.90" stroke="#151515" stroke-width="1.2"/><text x="31.00" y="101.90" font-size="8.96" text-anchor="end" font-weight="normal" fill="#222" textLength="11.12" lengthAdjust="spacingAndGlyphs" stroke="#222" stroke-width="0.12">1.4</text><line x1="33.00" y1="129.90" x2="36.30" y2="129.90" stroke="#151515" stroke-width="1.2"/><text x="31.00" y="132.90" font-size="8.96" text-anchor="end" font-weight="normal" fill="#222" textLength="11.12" lengthAdjust="spacingAndGlyphs" stroke="#222" stroke-width="0.12">1.3</text><line x1="35.55" y1="129.90" x2="177.50" y2="129.90" stroke="#151515" stroke-width="1.3"/><line x1="36.30" y1="129.90" x2="36.30" y2="132.90" stroke="#151515" stroke-width="1.2"/><text x="36.30" y="142.90" font-size="8.96" text-anchor="middle" font-weight="normal" fill="#222" textLength="4.45" lengthAdjust="spacingAndGlyphs" stroke="#222" stroke-width="0.12">0</text><line x1="82.37" y1="129.90" x2="82.37" y2="132.90" stroke="#151515" stroke-width="1.2"/><text x="82.37" y="142.90" font-size="8.96" text-anchor="middle" font-weight="normal" fill="#222" textLength="13.35" lengthAdjust="spacingAndGlyphs" stroke="#222" stroke-width="0.12">200</text><line x1="128.43" y1="129.90" x2="128.43" y2="132.90" stroke="#151515" stroke-width="1.2"/><text x="128.43" y="142.90" font-size="8.96" text-anchor="middle" font-weight="normal" fill="#222" textLength="13.35" lengthAdjust="spacingAndGlyphs" stroke="#222" stroke-width="0.12">400</text><line x1="174.50" y1="129.90" x2="174.50" y2="132.90" stroke="#151515" stroke-width="1.2"/><text x="174.50" y="142.90" font-size="8.96" text-anchor="middle" font-weight="normal" fill="#222" textLength="13.35" lengthAdjust="spacingAndGlyphs" stroke="#222" stroke-width="0.12">600</text><text x="107.20" y="156.20" font-size="10.37" text-anchor="middle" font-weight="normal" fill="#222" textLength="32.08" lengthAdjust="spacingAndGlyphs" stroke="#222" stroke-width="0.15">Time (s)</text><text x="0" y="0" font-size="9.35" text-anchor="middle" font-weight="normal" fill="#222" textLength="50.12" lengthAdjust="spacingAndGlyphs" transform="translate(16.2,82.7) rotate(-90)" stroke="#222" stroke-width="0.12">340/380 ratio</text><text x="106.90" y="28.50" font-size="10.27" text-anchor="middle" font-weight="bold" fill="#111" textLength="84.27" lengthAdjust="spacingAndGlyphs" >Thrombin 0.1U/mL</text><circle cx="44.6" cy="39.3" r="2.35" fill="#2a2a82"/><text x="49.50" y="42.20" font-size="8.80" text-anchor="start" font-weight="normal" fill="#222" textLength="26.76" lengthAdjust="spacingAndGlyphs" stroke="#222" stroke-width="0.12">Control</text><rect x="42.9" y="48.2" width="3.4" height="3.4" fill="#ee1a1f"/><text x="49.50" y="52.80" font-size="8.80" text-anchor="start" font-weight="normal" fill="#222" textLength="38.27" lengthAdjust="spacingAndGlyphs" stroke="#222" stroke-width="0.12">WDR1 KD</text><polygon points="42.6,62.2 46.6,62.2 44.6,58.6" fill="#111"/><text x="49.50" y="63.50" font-size="8.80" text-anchor="start" font-weight="normal" fill="#222" textLength="33.20" lengthAdjust="spacingAndGlyphs" stroke="#222" stroke-width="0.12">WDR1ov</text><polygon points="199.50,110.85 200.50,110.03 201.50,110.51 202.50,108.95 203.50,110.29 204.50,109.98 205.50,108.83 206.50,109.84 207.50,110.16 208.50,109.63 209.50,110.07 210.50,109.99 211.50,110.33 212.50,109.55 213.50,110.62 214.50,110.96 215.50,109.41 216.50,109.90 217.50,109.69 218.50,110.14 219.50,110.89 220.50,109.52 221.50,110.16 222.50,109.33 223.50,109.68 224.50,109.45 225.50,109.83 226.50,109.29 227.50,109.85 228.50,109.79 229.50,109.27 230.50,110.17 231.50,110.10 232.50,109.53 233.50,109.50 234.50,110.54 235.50,109.77 236.50,109.71 237.50,109.88 238.50,109.36 239.50,110.52 240.50,110.68 241.50,110.07 242.50,109.84 243.50,98.52 243.50,116.72 242.50,123.07 241.50,122.98 240.50,122.53 239.50,123.04 238.50,121.71 237.50,122.56 236.50,122.25 235.50,122.28 234.50,122.58 233.50,122.73 232.50,121.53 231.50,122.71 230.50,123.53 229.50,122.70 228.50,122.49 227.50,122.77 226.50,121.77 225.50,122.44 224.50,122.66 223.50,121.25 222.50,121.35 221.50,122.86 220.50,122.68 219.50,123.64 218.50,123.02 217.50,121.65 216.50,121.52 215.50,122.76 214.50,122.60 213.50,122.56 212.50,122.43 211.50,123.46 210.50,121.68 209.50,123.15 208.50,122.13 207.50,123.15 206.50,122.70 205.50,121.04 204.50,123.00 203.50,122.72 202.50,122.16 201.50,122.73 200.50,122.49 199.50,123.78" fill="#858585" opacity="1.0"/><path d="M200.50,110.83V121.69M202.50,109.75V121.36M204.50,110.78V122.20M206.50,110.64V121.90M208.50,110.43V121.33M210.50,110.79V120.88M212.50,110.35V121.63M214.50,111.76V121.80M216.50,110.70V120.72M218.50,110.94V122.22M220.50,110.32V121.88M222.50,110.13V120.55M224.50,110.25V121.86M226.50,110.09V120.97M228.50,110.59V121.69M230.50,110.97V122.73M232.50,110.33V120.73M234.50,111.34V121.78M236.50,110.51V121.45M238.50,110.16V120.91M240.50,111.48V121.73M242.50,110.64V122.27" stroke="#ddd" stroke-width="0.6" opacity="0.35"/><path d="M199.50,110.85 L200.50,110.03 L201.50,110.51 L202.50,108.95 L203.50,110.29 L204.50,109.98 L205.50,108.83 L206.50,109.84 L207.50,110.16 L208.50,109.63 L209.50,110.07 L210.50,109.99 L211.50,110.33 L212.50,109.55 L213.50,110.62 L214.50,110.96 L215.50,109.41 L216.50,109.90 L217.50,109.69 L218.50,110.14 L219.50,110.89 L220.50,109.52 L221.50,110.16 L222.50,109.33 L223.50,109.68 L224.50,109.45 L225.50,109.83 L226.50,109.29 L227.50,109.85 L228.50,109.79 L229.50,109.27 L230.50,110.17 L231.50,110.10 L232.50,109.53 L233.50,109.50 L234.50,110.54 L235.50,109.77 L236.50,109.71 L237.50,109.88 L238.50,109.36 L239.50,110.52 L240.50,110.68 L241.50,110.07 L242.50,109.84 L243.50,98.52" fill="none" stroke="#555" stroke-width="0.9"/><path d="M199.50,123.78 L200.50,122.49 L201.50,122.73 L202.50,122.16 L203.50,122.72 L204.50,123.00 L205.50,121.04 L206.50,122.70 L207.50,123.15 L208.50,122.13 L209.50,123.15 L210.50,121.68 L211.50,123.46 L212.50,122.43 L213.50,122.56 L214.50,122.60 L215.50,122.76 L216.50,121.52 L217.50,121.65 L218.50,123.02 L219.50,123.64 L220.50,122.68 L221.50,122.86 L222.50,121.35 L223.50,121.25 L224.50,122.66 L225.50,122.44 L226.50,121.77 L227.50,122.77 L228.50,122.49 L229.50,122.70 L230.50,123.53 L231.50,122.71 L232.50,121.53 L233.50,122.73 L234.50,122.58 L235.50,122.28 L236.50,122.25 L237.50,122.56 L238.50,121.71 L239.50,123.04 L240.50,122.53 L241.50,122.98 L242.50,123.07 L243.50,116.72" fill="none" stroke="#555" stroke-width="0.9"/><polygon points="244.50,97.40 245.50,99.51 246.50,98.98 247.50,99.13 248.50,97.63 249.50,98.41 250.50,98.81 251.50,98.86 252.50,96.92 253.50,98.39 254.50,96.62 255.50,97.59 256.50,98.45 257.50,96.69 258.50,99.09 259.50,97.76 260.50,96.69 261.50,97.99 262.50,97.52 263.50,96.75 264.50,96.47 265.50,99.13 266.50,99.15 267.50,98.22 268.50,97.98 269.50,98.59 270.50,97.79 271.50,98.15 272.50,97.13 273.50,98.92 274.50,97.20 275.50,98.14 276.50,98.00 277.50,96.97 278.50,97.56 279.50,99.22 280.50,97.33 281.50,98.31 282.50,99.14 283.50,98.70 284.50,96.75 285.50,98.13 286.50,99.03 287.50,97.89 288.50,97.15 289.50,98.35 290.50,97.01 291.50,96.17 292.50,97.71 293.50,97.59 294.50,97.28 295.50,96.96 296.50,95.87 297.50,98.13 298.50,96.93 299.50,96.84 300.50,97.37 301.50,96.64 302.50,97.71 303.50,96.06 304.50,97.13 305.50,96.86 306.50,96.34 307.50,96.42 308.50,96.15 309.50,97.88 310.50,96.22 311.50,95.23 312.50,95.42 313.50,95.50 314.50,96.52 315.50,96.00 316.50,94.41 317.50,97.18 318.50,95.91 319.50,94.43 320.50,93.95 321.50,95.25 322.50,94.85 323.50,96.26 324.50,96.36 325.50,94.39 326.50,93.96 327.50,95.29 328.50,94.22 329.50,95.58 330.50,93.89 331.50,94.47 332.50,94.35 333.50,94.82 334.50,93.70 335.50,93.13 336.50,94.51 337.50,94.74 337.50,112.33 336.50,111.45 335.50,112.34 334.50,111.59 333.50,112.29 332.50,112.61 331.50,112.29 330.50,111.97 329.50,112.89 328.50,111.77 327.50,111.88 326.50,111.30 325.50,111.76 324.50,111.82 323.50,114.14 322.50,112.73 321.50,112.43 320.50,112.48 319.50,111.82 318.50,112.79 317.50,114.51 316.50,111.56 315.50,111.77 314.50,113.43 313.50,114.01 312.50,112.85 311.50,113.55 310.50,113.50 309.50,114.53 308.50,113.78 307.50,113.33 306.50,114.59 305.50,114.44 304.50,114.16 303.50,113.34 302.50,114.91 301.50,114.77 300.50,115.35 299.50,115.26 298.50,114.59 297.50,114.24 296.50,114.63 295.50,115.32 294.50,113.98 293.50,116.01 292.50,114.72 291.50,114.20 290.50,115.28 289.50,115.08 288.50,114.64 287.50,115.75 286.50,115.93 285.50,115.63 284.50,114.87 283.50,115.38 282.50,115.98 281.50,115.38 280.50,115.30 279.50,116.31 278.50,115.14 277.50,113.69 276.50,114.69 275.50,115.30 274.50,115.11 273.50,116.13 272.50,116.08 271.50,116.45 270.50,115.27 269.50,115.06 268.50,114.16 267.50,115.57 266.50,114.60 265.50,116.50 264.50,115.50 263.50,115.91 262.50,115.64 261.50,115.01 260.50,114.24 259.50,114.47 258.50,115.83 257.50,114.64 256.50,115.60 255.50,116.42 254.50,114.86 253.50,115.94 252.50,115.65 251.50,115.55 250.50,115.81 249.50,115.78 248.50,115.28 247.50,115.39 246.50,115.05 245.50,117.14 244.50,115.09" fill="#858585" opacity="1.0"/><path d="M245.50,100.31V116.34M247.50,99.93V114.59M249.50,99.21V114.98M251.50,99.66V114.75M253.50,99.19V115.14M255.50,98.39V115.62M257.50,97.49V113.84M259.50,98.56V113.67M261.50,98.79V114.21M263.50,97.55V115.11M265.50,99.93V115.70M267.50,99.02V114.77M269.50,99.39V114.26M271.50,98.95V115.65M273.50,99.72V115.33M275.50,98.94V114.50M277.50,97.77V112.89M279.50,100.02V115.51M281.50,99.11V114.58M283.50,99.50V114.58M285.50,98.93V114.83M287.50,98.69V114.95M289.50,99.15V114.28M291.50,96.97V113.40M293.50,98.39V115.21M295.50,97.76V114.52M297.50,98.93V113.44M299.50,97.64V114.46M301.50,97.44V113.97M303.50,96.86V112.54M305.50,97.66V113.64M307.50,97.22V112.53M309.50,98.68V113.73M311.50,96.03V112.75M313.50,96.30V113.21M315.50,96.80V110.97M317.50,97.98V113.71M319.50,95.23V111.02M321.50,96.05V111.63M323.50,97.06V113.34M325.50,95.19V110.96M327.50,96.09V111.08M329.50,96.38V112.09M331.50,95.27V111.49M333.50,95.62V111.49M335.50,93.93V111.54M337.50,95.54V111.53" stroke="#ddd" stroke-width="0.6" opacity="0.35"/><path d="M244.50,97.40 L245.50,99.51 L246.50,98.98 L247.50,99.13 L248.50,97.63 L249.50,98.41 L250.50,98.81 L251.50,98.86 L252.50,96.92 L253.50,98.39 L254.50,96.62 L255.50,97.59 L256.50,98.45 L257.50,96.69 L258.50,99.09 L259.50,97.76 L260.50,96.69 L261.50,97.99 L262.50,97.52 L263.50,96.75 L264.50,96.47 L265.50,99.13 L266.50,99.15 L267.50,98.22 L268.50,97.98 L269.50,98.59 L270.50,97.79 L271.50,98.15 L272.50,97.13 L273.50,98.92 L274.50,97.20 L275.50,98.14 L276.50,98.00 L277.50,96.97 L278.50,97.56 L279.50,99.22 L280.50,97.33 L281.50,98.31 L282.50,99.14 L283.50,98.70 L284.50,96.75 L285.50,98.13 L286.50,99.03 L287.50,97.89 L288.50,97.15 L289.50,98.35 L290.50,97.01 L291.50,96.17 L292.50,97.71 L293.50,97.59 L294.50,97.28 L295.50,96.96 L296.50,95.87 L297.50,98.13 L298.50,96.93 L299.50,96.84 L300.50,97.37 L301.50,96.64 L302.50,97.71 L303.50,96.06 L304.50,97.13 L305.50,96.86 L306.50,96.34 L307.50,96.42 L308.50,96.15 L309.50,97.88 L310.50,96.22 L311.50,95.23 L312.50,95.42 L313.50,95.50 L314.50,96.52 L315.50,96.00 L316.50,94.41 L317.50,97.18 L318.50,95.91 L319.50,94.43 L320.50,93.95 L321.50,95.25 L322.50,94.85 L323.50,96.26 L324.50,96.36 L325.50,94.39 L326.50,93.96 L327.50,95.29 L328.50,94.22 L329.50,95.58 L330.50,93.89 L331.50,94.47 L332.50,94.35 L333.50,94.82 L334.50,93.70 L335.50,93.13 L336.50,94.51 L337.50,94.74" fill="none" stroke="#555" stroke-width="0.9"/><path d="M244.50,115.09 L245.50,117.14 L246.50,115.05 L247.50,115.39 L248.50,115.28 L249.50,115.78 L250.50,115.81 L251.50,115.55 L252.50,115.65 L253.50,115.94 L254.50,114.86 L255.50,116.42 L256.50,115.60 L257.50,114.64 L258.50,115.83 L259.50,114.47 L260.50,114.24 L261.50,115.01 L262.50,115.64 L263.50,115.91 L264.50,115.50 L265.50,116.50 L266.50,114.60 L267.50,115.57 L268.50,114.16 L269.50,115.06 L270.50,115.27 L271.50,116.45 L272.50,116.08 L273.50,116.13 L274.50,115.11 L275.50,115.30 L276.50,114.69 L277.50,113.69 L278.50,115.14 L279.50,116.31 L280.50,115.30 L281.50,115.38 L282.50,115.98 L283.50,115.38 L284.50,114.87 L285.50,115.63 L286.50,115.93 L287.50,115.75 L288.50,114.64 L289.50,115.08 L290.50,115.28 L291.50,114.20 L292.50,114.72 L293.50,116.01 L294.50,113.98 L295.50,115.32 L296.50,114.63 L297.50,114.24 L298.50,114.59 L299.50,115.26 L300.50,115.35 L301.50,114.77 L302.50,114.91 L303.50,113.34 L304.50,114.16 L305.50,114.44 L306.50,114.59 L307.50,113.33 L308.50,113.78 L309.50,114.53 L310.50,113.50 L311.50,113.55 L312.50,112.85 L313.50,114.01 L314.50,113.43 L315.50,111.77 L316.50,111.56 L317.50,114.51 L318.50,112.79 L319.50,111.82 L320.50,112.48 L321.50,112.43 L322.50,112.73 L323.50,114.14 L324.50,111.82 L325.50,111.76 L326.50,111.30 L327.50,111.88 L328.50,111.77 L329.50,112.89 L330.50,111.97 L331.50,112.29 L332.50,112.61 L333.50,112.29 L334.50,111.59 L335.50,112.34 L336.50,111.45 L337.50,112.33" fill="none" stroke="#555" stroke-width="0.9"/><path d="M199.50,116.03 L200.50,115.15 L201.50,115.50 L202.50,114.83 L203.50,115.96 L204.50,115.34 L205.50,114.84 L206.50,115.03 L207.50,115.50 L208.50,115.07 L209.50,115.91 L210.50,115.26 L211.50,116.05 L212.50,114.97 L213.50,115.63 L214.50,116.12 L215.50,115.18 L216.50,114.95 L217.50,115.22 L218.50,115.22 L219.50,115.87 L220.50,114.86 L221.50,115.97 L222.50,115.01 L223.50,115.03 L224.50,115.34 L225.50,115.50 L226.50,114.93 L227.50,115.89 L228.50,115.62 L229.50,115.07 L230.50,115.94 L231.50,115.79 L232.50,115.20 L233.50,115.37 L234.50,115.71 L235.50,115.43 L236.50,115.78 L237.50,115.75 L238.50,115.48 L239.50,115.57 L240.50,116.20 L241.50,115.62 L242.50,115.52 L243.50,107.53" fill="none" stroke="#111" stroke-width="1.4" stroke-linejoin="round" opacity="1.0"/><path d="M244.50,107.01 L245.50,107.87 L246.50,107.20 L247.50,107.26 L248.50,107.27 L249.50,107.00 L250.50,108.07 L251.50,107.82 L252.50,106.73 L253.50,107.52 L254.50,106.85 L255.50,107.49 L256.50,107.20 L257.50,106.63 L258.50,107.77 L259.50,106.80 L260.50,106.38 L261.50,106.75 L262.50,107.02 L263.50,106.90 L264.50,106.39 L265.50,107.54 L266.50,107.28 L267.50,107.77 L268.50,106.39 L269.50,107.45 L270.50,107.63 L271.50,107.59 L272.50,107.20 L273.50,107.45 L274.50,106.93 L275.50,107.47 L276.50,106.40 L277.50,106.09 L278.50,106.76 L279.50,107.33 L280.50,106.67 L281.50,107.24 L282.50,107.40 L283.50,106.86 L284.50,106.91 L285.50,107.36 L286.50,107.20 L287.50,106.73 L288.50,106.29 L289.50,106.91 L290.50,106.33 L291.50,106.10 L292.50,106.41 L293.50,107.13 L294.50,106.08 L295.50,106.46 L296.50,105.56 L297.50,106.34 L298.50,105.45 L299.50,106.39 L300.50,106.81 L301.50,106.28 L302.50,106.28 L303.50,105.84 L304.50,105.31 L305.50,106.40 L306.50,106.17 L307.50,105.18 L308.50,105.19 L309.50,106.09 L310.50,104.58 L311.50,105.35 L312.50,104.37 L313.50,105.76 L314.50,104.84 L315.50,104.43 L316.50,104.02 L317.50,105.47 L318.50,104.05 L319.50,104.15 L320.50,103.75 L321.50,104.96 L322.50,104.51 L323.50,104.91 L324.50,104.48 L325.50,104.29 L326.50,103.67 L327.50,104.46 L328.50,103.59 L329.50,104.00 L330.50,103.41 L331.50,103.42 L332.50,104.18 L333.50,103.05 L334.50,103.62 L335.50,103.38 L336.50,103.29 L337.50,103.66" fill="none" stroke="#111" stroke-width="1.4" stroke-linejoin="round" opacity="1.0"/><polygon points="199.50,99.91 200.50,100.74 201.50,100.16 202.50,101.46 203.50,100.31 204.50,99.71 205.50,100.15 206.50,99.93 207.50,99.84 208.50,100.10 209.50,100.93 210.50,100.53 211.50,99.74 212.50,100.24 213.50,101.12 214.50,101.23 215.50,100.10 216.50,100.98 217.50,100.98 218.50,101.19 219.50,101.65 220.50,100.67 221.50,99.70 222.50,100.83 223.50,101.39 224.50,100.89 225.50,101.30 226.50,101.12 227.50,100.51 228.50,100.90 229.50,101.13 230.50,101.72 231.50,100.39 232.50,100.73 233.50,100.67 234.50,100.50 235.50,100.66 236.50,99.76 237.50,100.19 238.50,99.86 239.50,101.08 240.50,101.40 241.50,100.75 242.50,100.46 242.50,109.46 241.50,109.93 240.50,110.40 239.50,110.60 238.50,110.34 237.50,110.08 236.50,110.05 235.50,111.23 234.50,109.73 233.50,110.74 232.50,110.02 231.50,110.86 230.50,111.16 229.50,110.31 228.50,110.70 227.50,110.66 226.50,109.82 225.50,110.09 224.50,111.47 223.50,111.44 222.50,110.38 221.50,110.42 220.50,109.91 219.50,110.99 218.50,110.51 217.50,110.58 216.50,110.57 215.50,109.92 214.50,110.21 213.50,110.83 212.50,110.44 211.50,110.12 210.50,110.57 209.50,109.99 208.50,110.12 207.50,110.30 206.50,110.00 205.50,110.24 204.50,110.19 203.50,110.57 202.50,110.90 201.50,110.29 200.50,109.54 199.50,110.45" fill="#f48a80" opacity="1.0"/><path d="M200.50,101.54V108.74M202.50,102.26V110.10M204.50,100.51V109.39M206.50,100.73V109.20M208.50,100.90V109.32M210.50,101.33V109.77M212.50,101.04V109.64M214.50,102.03V109.41M216.50,101.78V109.77M218.50,101.99V109.71M220.50,101.47V109.11M222.50,101.63V109.58M224.50,101.69V110.67M226.50,101.92V109.02M228.50,101.70V109.90M230.50,102.52V110.36M232.50,101.53V109.22M234.50,101.30V108.93M236.50,100.56V109.25M238.50,100.66V109.54M240.50,102.20V109.60M242.50,101.26V108.66" stroke="#fff" stroke-width="0.6" opacity="0.25"/><polygon points="243.50,69.77 244.50,66.77 245.50,63.86 246.50,66.36 247.50,65.25 248.50,67.14 249.50,68.01 250.50,68.13 251.50,69.04 252.50,70.14 253.50,69.83 254.50,70.68 255.50,70.31 256.50,72.55 257.50,72.45 258.50,72.37 259.50,72.03 260.50,74.12 261.50,74.50 262.50,73.06 263.50,74.75 264.50,73.53 265.50,74.51 266.50,74.68 267.50,74.68 268.50,75.75 269.50,76.02 270.50,75.63 271.50,76.62 272.50,75.76 273.50,77.53 274.50,76.36 275.50,77.68 276.50,76.85 277.50,76.71 278.50,77.37 279.50,77.16 280.50,78.38 281.50,78.01 282.50,78.57 283.50,77.35 284.50,78.40 285.50,79.13 286.50,78.67 287.50,78.08 288.50,78.12 289.50,78.23 290.50,78.81 291.50,79.29 292.50,78.73 293.50,79.42 294.50,78.78 295.50,78.88 296.50,78.67 297.50,79.47 298.50,79.72 299.50,80.14 300.50,79.50 301.50,79.46 302.50,80.44 303.50,79.50 304.50,79.14 305.50,79.86 306.50,79.82 307.50,79.43 308.50,78.92 309.50,80.05 310.50,78.49 311.50,78.46 312.50,78.50 313.50,79.53 314.50,79.28 315.50,79.12 316.50,78.42 317.50,78.39 318.50,78.47 319.50,77.70 320.50,78.22 321.50,77.48 322.50,77.92 323.50,77.97 324.50,77.96 325.50,77.31 326.50,77.25 327.50,76.72 328.50,78.17 329.50,77.87 330.50,77.20 331.50,77.01 332.50,77.76 333.50,76.60 334.50,76.93 335.50,76.79 336.50,76.33 337.50,77.52 337.50,86.46 336.50,85.87 335.50,86.33 334.50,86.32 333.50,85.92 332.50,86.19 331.50,86.16 330.50,86.36 329.50,86.36 328.50,86.34 327.50,86.08 326.50,86.31 325.50,86.50 324.50,86.91 323.50,86.39 322.50,87.02 321.50,86.68 320.50,87.45 319.50,87.10 318.50,86.97 317.50,86.76 316.50,87.11 315.50,87.90 314.50,87.94 313.50,88.09 312.50,87.46 311.50,88.07 310.50,87.46 309.50,88.65 308.50,88.67 307.50,89.19 306.50,87.90 305.50,88.29 304.50,88.16 303.50,88.75 302.50,88.95 301.50,89.25 300.50,88.91 299.50,88.70 298.50,89.05 297.50,88.72 296.50,88.49 295.50,88.21 294.50,88.25 293.50,87.89 292.50,87.72 291.50,88.08 290.50,87.64 289.50,87.43 288.50,87.04 287.50,86.97 286.50,86.91 285.50,88.05 284.50,87.45 283.50,87.24 282.50,87.69 281.50,87.25 280.50,87.15 279.50,86.13 278.50,86.32 277.50,85.96 276.50,86.04 275.50,86.54 274.50,86.12 273.50,86.33 272.50,84.94 271.50,85.41 270.50,84.97 269.50,84.78 268.50,83.85 267.50,84.20 266.50,83.40 265.50,83.85 264.50,82.94 263.50,83.20 262.50,82.13 261.50,83.21 260.50,82.44 259.50,82.09 258.50,80.79 257.50,81.10 256.50,81.44 255.50,79.39 254.50,79.29 253.50,78.90 252.50,78.78 251.50,77.75 250.50,76.36 249.50,77.12 248.50,75.92 247.50,75.08 246.50,74.89 245.50,73.73 244.50,75.67 243.50,78.43" fill="#f48a80" opacity="1.0"/><path d="M244.50,67.57V74.87M246.50,67.16V74.09M248.50,67.94V75.12M250.50,68.93V75.56M252.50,70.94V77.98M254.50,71.48V78.49M256.50,73.35V80.64M258.50,73.17V79.99M260.50,74.92V81.64M262.50,73.86V81.33M264.50,74.33V82.14M266.50,75.48V82.60M268.50,76.55V83.05M270.50,76.43V84.17M272.50,76.56V84.14M274.50,77.16V85.32M276.50,77.65V85.24M278.50,78.17V85.52M280.50,79.18V86.35M282.50,79.37V86.89M284.50,79.20V86.65M286.50,79.47V86.11M288.50,78.92V86.24M290.50,79.61V86.84M292.50,79.53V86.92M294.50,79.58V87.45M296.50,79.47V87.69M298.50,80.52V88.25M300.50,80.30V88.11M302.50,81.24V88.15M304.50,79.94V87.36M306.50,80.62V87.10M308.50,79.72V87.87M310.50,79.29V86.66M312.50,79.30V86.66M314.50,80.08V87.14M316.50,79.22V86.31M318.50,79.27V86.17M320.50,79.02V86.65M322.50,78.72V86.22M324.50,78.76V86.11M326.50,78.05V85.51M328.50,78.97V85.54M330.50,78.00V85.56M332.50,78.56V85.39M334.50,77.73V85.52M336.50,77.13V85.07" stroke="#fff" stroke-width="0.6" opacity="0.25"/><path d="M199.50,105.94 L200.50,105.58 L201.50,105.77 L202.50,106.36 L203.50,106.30 L204.50,105.68 L205.50,106.20 L206.50,105.50 L207.50,105.67 L208.50,105.74 L209.50,106.04 L210.50,106.41 L211.50,105.64 L212.50,105.84 L213.50,106.65 L214.50,106.32 L215.50,105.86 L216.50,106.35 L217.50,105.88 L218.50,106.17 L219.50,106.70 L220.50,106.19 L221.50,105.85 L222.50,106.42 L223.50,106.79 L224.50,106.81 L225.50,106.19 L226.50,106.08 L227.50,106.50 L228.50,106.94 L229.50,106.49 L230.50,106.90 L231.50,106.49 L232.50,106.16 L233.50,106.82 L234.50,105.68 L235.50,106.69 L236.50,105.64 L237.50,106.33 L238.50,105.70 L239.50,106.31 L240.50,106.38 L241.50,105.75 L242.50,105.62" fill="none" stroke="#ee1a1f" stroke-width="4.2" stroke-linejoin="round" opacity="1.0"/><path d="M243.50,74.01 L244.50,71.03 L245.50,69.16 L246.50,70.75 L247.50,70.54 L248.50,71.88 L249.50,72.79 L250.50,72.61 L251.50,73.90 L252.50,74.67 L253.50,74.36 L254.50,75.10 L255.50,75.58 L256.50,76.84 L257.50,76.92 L258.50,76.89 L259.50,77.39 L260.50,78.45 L261.50,78.79 L262.50,78.41 L263.50,79.36 L264.50,78.71 L265.50,79.24 L266.50,79.56 L267.50,79.79 L268.50,80.07 L269.50,80.81 L270.50,80.56 L271.50,81.51 L272.50,80.83 L273.50,81.82 L274.50,81.55 L275.50,81.92 L276.50,82.08 L277.50,81.89 L278.50,82.02 L279.50,81.98 L280.50,82.74 L281.50,83.24 L282.50,83.24 L283.50,82.58 L284.50,83.22 L285.50,83.38 L286.50,83.11 L287.50,83.24 L288.50,83.15 L289.50,83.15 L290.50,83.84 L291.50,84.34 L292.50,83.52 L293.50,83.78 L294.50,83.68 L295.50,83.76 L296.50,83.85 L297.50,84.18 L298.50,84.40 L299.50,84.76 L300.50,84.23 L301.50,84.73 L302.50,84.73 L303.50,84.80 L304.50,84.10 L305.50,84.16 L306.50,84.06 L307.50,84.55 L308.50,84.08 L309.50,84.31 L310.50,83.49 L311.50,83.75 L312.50,83.32 L313.50,84.09 L314.50,83.64 L315.50,83.93 L316.50,83.26 L317.50,82.77 L318.50,83.02 L319.50,82.56 L320.50,83.10 L321.50,82.52 L322.50,82.85 L323.50,82.48 L324.50,82.63 L325.50,81.94 L326.50,82.12 L327.50,82.08 L328.50,82.57 L329.50,82.60 L330.50,81.93 L331.50,81.50 L332.50,82.16 L333.50,81.60 L334.50,82.10 L335.50,81.87 L336.50,81.46 L337.50,81.89" fill="none" stroke="#ee1a1f" stroke-width="3.4" stroke-linejoin="round" opacity="1.0"/><polygon points="199.50,109.15 200.50,109.56 201.50,109.64 202.50,110.26 203.50,109.76 204.50,109.84 205.50,109.54 206.50,110.09 207.50,110.14 208.50,110.54 209.50,109.51 210.50,110.89 211.50,111.02 212.50,110.14 213.50,110.36 214.50,110.07 215.50,110.08 216.50,109.47 217.50,110.50 218.50,109.91 219.50,110.10 220.50,109.91 221.50,109.89 222.50,109.89 223.50,110.49 224.50,110.41 225.50,110.34 226.50,109.91 227.50,110.43 228.50,110.19 229.50,110.60 230.50,109.76 231.50,110.85 232.50,110.48 233.50,109.79 234.50,109.74 235.50,110.69 236.50,110.05 237.50,110.09 238.50,109.90 239.50,110.97 240.50,110.68 241.50,110.34 242.50,109.33 242.50,118.31 241.50,118.27 240.50,119.25 239.50,118.53 238.50,118.83 237.50,117.85 236.50,118.50 235.50,119.17 234.50,118.41 233.50,118.35 232.50,119.24 231.50,118.67 230.50,118.33 229.50,118.74 228.50,118.63 227.50,118.29 226.50,118.23 225.50,119.12 224.50,119.44 223.50,118.58 222.50,118.73 221.50,118.76 220.50,119.06 219.50,119.03 218.50,118.55 217.50,118.48 216.50,118.59 215.50,118.54 214.50,118.79 213.50,119.43 212.50,119.09 211.50,118.56 210.50,119.02 209.50,118.70 208.50,119.09 207.50,118.38 206.50,118.19 205.50,118.69 204.50,118.27 203.50,118.25 202.50,118.59 201.50,118.82 200.50,118.58 199.50,118.00" fill="#9a93d4" opacity="1.0"/><path d="M200.50,110.36V117.78M202.50,111.06V117.79M204.50,110.64V117.47M206.50,110.89V117.39M208.50,111.34V118.29M210.50,111.69V118.22M212.50,110.94V118.29M214.50,110.87V117.99M216.50,110.27V117.79M218.50,110.71V117.75M220.50,110.71V118.26M222.50,110.69V117.93M224.50,111.21V118.64M226.50,110.71V117.43M228.50,110.99V117.83M230.50,110.56V117.53M232.50,111.28V118.44M234.50,110.54V117.61M236.50,110.85V117.70M238.50,110.70V118.03M240.50,111.48V118.45M242.50,110.13V117.51" stroke="#fff" stroke-width="0.6" opacity="0.25"/><polygon points="243.50,57.30 244.50,53.25 245.50,51.71 246.50,51.11 247.50,54.09 248.50,56.45 249.50,58.62 250.50,59.95 251.50,61.94 252.50,63.46 253.50,65.26 254.50,67.84 255.50,67.94 256.50,70.18 257.50,71.57 258.50,72.03 259.50,72.45 260.50,73.53 261.50,74.43 262.50,75.48 263.50,76.51 264.50,76.78 265.50,78.69 266.50,79.17 267.50,78.61 268.50,80.06 269.50,79.63 270.50,80.86 271.50,81.79 272.50,82.04 273.50,82.00 274.50,82.05 275.50,83.02 276.50,83.36 277.50,83.48 278.50,83.48 279.50,83.73 280.50,83.91 281.50,84.32 282.50,84.19 283.50,83.95 284.50,85.37 285.50,85.20 286.50,85.13 287.50,85.14 288.50,85.06 289.50,84.71 290.50,86.17 291.50,86.11 292.50,85.87 293.50,84.91 294.50,85.73 295.50,86.74 296.50,86.91 297.50,85.75 298.50,86.46 299.50,85.68 300.50,86.19 301.50,86.74 302.50,86.12 303.50,85.41 304.50,86.01 305.50,85.57 306.50,86.38 307.50,85.91 308.50,86.13 309.50,86.38 310.50,85.88 311.50,85.80 312.50,85.17 313.50,85.93 314.50,84.95 315.50,85.11 316.50,85.20 317.50,85.51 318.50,84.66 319.50,84.94 320.50,85.36 321.50,83.87 322.50,84.22 323.50,85.45 324.50,85.12 325.50,83.66 326.50,84.30 327.50,84.60 328.50,83.62 329.50,84.57 330.50,84.26 331.50,84.23 332.50,84.37 333.50,84.06 334.50,83.49 335.50,83.33 336.50,84.02 337.50,84.34 337.50,96.13 336.50,96.73 335.50,95.42 334.50,95.26 333.50,95.79 332.50,96.32 331.50,96.82 330.50,96.03 329.50,96.22 328.50,96.30 327.50,95.51 326.50,96.87 325.50,96.19 324.50,96.62 323.50,96.76 322.50,97.06 321.50,96.67 320.50,96.06 319.50,96.48 318.50,96.62 317.50,96.43 316.50,96.52 315.50,97.77 314.50,97.11 313.50,98.21 312.50,96.77 311.50,97.99 310.50,98.33 309.50,97.44 308.50,97.83 307.50,97.12 306.50,97.16 305.50,98.16 304.50,97.78 303.50,96.78 302.50,98.63 301.50,98.33 300.50,98.59 299.50,98.31 298.50,98.50 297.50,98.38 296.50,98.53 295.50,98.87 294.50,96.59 293.50,97.32 292.50,97.66 291.50,96.92 290.50,97.57 289.50,97.04 288.50,96.86 287.50,96.51 286.50,95.83 285.50,97.63 284.50,96.16 283.50,95.93 282.50,96.51 281.50,96.07 280.50,94.68 279.50,96.58 278.50,95.83 277.50,95.19 276.50,94.33 275.50,94.66 274.50,93.41 273.50,93.99 272.50,93.44 271.50,93.71 270.50,92.33 269.50,91.26 268.50,91.74 267.50,91.03 266.50,90.87 265.50,90.05 264.50,88.65 263.50,88.50 262.50,88.18 261.50,86.02 260.50,84.91 259.50,84.19 258.50,83.14 257.50,82.78 256.50,80.84 255.50,79.60 254.50,79.49 253.50,76.38 252.50,75.19 251.50,74.13 250.50,71.98 249.50,71.15 248.50,68.19 247.50,66.32 246.50,63.07 245.50,63.63 244.50,65.65 243.50,68.85" fill="#9a93d4" opacity="1.0"/><path d="M244.50,54.05V64.85M246.50,51.91V62.27M248.50,57.25V67.39M250.50,60.75V71.18M252.50,64.26V74.39M254.50,68.64V78.69M256.50,70.98V80.04M258.50,72.83V82.34M260.50,74.33V84.11M262.50,76.28V87.38M264.50,77.58V87.85M266.50,79.97V90.07M268.50,80.86V90.94M270.50,81.66V91.53M272.50,82.84V92.64M274.50,82.85V92.61M276.50,84.16V93.53M278.50,84.28V95.03M280.50,84.71V93.88M282.50,84.99V95.71M284.50,86.17V95.36M286.50,85.93V95.03M288.50,85.86V96.06M290.50,86.97V96.77M292.50,86.67V96.86M294.50,86.53V95.79M296.50,87.71V97.73M298.50,87.26V97.70M300.50,86.99V97.79M302.50,86.92V97.83M304.50,86.81V96.98M306.50,87.18V96.36M308.50,86.93V97.03M310.50,86.68V97.53M312.50,85.97V95.97M314.50,85.75V96.31M316.50,86.00V95.72M318.50,85.46V95.82M320.50,86.16V95.26M322.50,85.02V96.26M324.50,85.92V95.82M326.50,85.10V96.07M328.50,84.42V95.50M330.50,85.06V95.23M332.50,85.17V95.52M334.50,84.29V94.46M336.50,84.82V95.93" stroke="#fff" stroke-width="0.6" opacity="0.25"/><path d="M199.50,113.41 L200.50,114.00 L201.50,113.91 L202.50,114.14 L203.50,113.97 L204.50,113.89 L205.50,113.82 L206.50,114.03 L207.50,113.80 L208.50,114.14 L209.50,113.84 L210.50,114.60 L211.50,114.55 L212.50,114.14 L213.50,114.39 L214.50,114.09 L215.50,113.94 L216.50,113.90 L217.50,114.11 L218.50,113.97 L219.50,114.55 L220.50,114.03 L221.50,113.91 L222.50,113.71 L223.50,114.50 L224.50,114.59 L225.50,114.71 L226.50,113.71 L227.50,114.14 L228.50,114.29 L229.50,114.73 L230.50,114.04 L231.50,114.38 L232.50,114.56 L233.50,113.79 L234.50,113.88 L235.50,114.76 L236.50,113.72 L237.50,113.70 L238.50,114.21 L239.50,114.55 L240.50,114.51 L241.50,114.02 L242.50,113.72" fill="none" stroke="#25229a" stroke-width="4.2" stroke-linejoin="round" opacity="1.0"/><path d="M243.50,62.24 L244.50,58.72 L245.50,56.63 L246.50,55.56 L247.50,58.87 L248.50,61.22 L249.50,63.62 L250.50,64.82 L251.50,66.71 L252.50,68.81 L253.50,70.09 L254.50,72.59 L255.50,72.98 L256.50,74.66 L257.50,76.39 L258.50,76.77 L259.50,77.65 L260.50,78.78 L261.50,79.83 L262.50,80.89 L263.50,81.33 L264.50,82.33 L265.50,83.70 L266.50,83.73 L267.50,84.09 L268.50,84.76 L269.50,85.08 L270.50,85.91 L271.50,86.65 L272.50,86.81 L273.50,86.61 L274.50,87.24 L275.50,87.86 L276.50,87.84 L277.50,88.04 L278.50,88.36 L279.50,89.19 L280.50,88.65 L281.50,89.51 L282.50,89.38 L283.50,89.37 L284.50,89.99 L285.50,90.48 L286.50,89.58 L287.50,89.90 L288.50,89.84 L289.50,90.12 L290.50,90.87 L291.50,90.93 L292.50,91.20 L293.50,90.34 L294.50,90.42 L295.50,91.39 L296.50,91.41 L297.50,91.05 L298.50,90.97 L299.50,91.20 L300.50,91.58 L301.50,91.20 L302.50,91.13 L303.50,90.73 L304.50,91.37 L305.50,91.14 L306.50,91.08 L307.50,90.80 L308.50,90.69 L309.50,91.06 L310.50,90.82 L311.50,90.56 L312.50,90.25 L313.50,90.99 L314.50,90.15 L315.50,90.43 L316.50,89.95 L317.50,89.99 L318.50,89.90 L319.50,89.73 L320.50,89.96 L321.50,89.46 L322.50,89.48 L323.50,89.98 L324.50,89.75 L325.50,89.16 L326.50,89.83 L327.50,89.30 L328.50,88.95 L329.50,89.19 L330.50,89.77 L331.50,89.62 L332.50,88.99 L333.50,88.91 L334.50,88.88 L335.50,88.41 L336.50,89.26 L337.50,89.33" fill="none" stroke="#25229a" stroke-width="3.2" stroke-linejoin="round" opacity="1.0"/><circle cx="243.3" cy="100" r="1.3" fill="#25229a"/><circle cx="243.3" cy="92" r="1.3" fill="#ee1a1f"/><circle cx="243.3" cy="84" r="1.3" fill="#25229a"/><circle cx="243.3" cy="76" r="1.3" fill="#25229a"/><circle cx="243.3" cy="69" r="1.3" fill="#ee1a1f"/><line x1="199.30" y1="34.60" x2="199.30" y2="130.45" stroke="#151515" stroke-width="1.3"/><line x1="196.00" y1="129.80" x2="199.30" y2="129.80" stroke="#151515" stroke-width="1.2"/><text x="194.00" y="132.80" font-size="8.96" text-anchor="end" font-weight="normal" fill="#222" textLength="11.12" lengthAdjust="spacingAndGlyphs" stroke="#222" stroke-width="0.12">1.3</text><line x1="196.00" y1="111.28" x2="199.30" y2="111.28" stroke="#151515" stroke-width="1.2"/><text x="194.00" y="114.28" font-size="8.96" text-anchor="end" font-weight="normal" fill="#222" textLength="11.12" lengthAdjust="spacingAndGlyphs" stroke="#222" stroke-width="0.12">1.4</text><line x1="196.00" y1="92.76" x2="199.30" y2="92.76" stroke="#151515" stroke-width="1.2"/><text x="194.00" y="95.76" font-size="8.96" text-anchor="end" font-weight="normal" fill="#222" textLength="11.12" lengthAdjust="spacingAndGlyphs" stroke="#222" stroke-width="0.12">1.5</text><line x1="196.00" y1="74.24" x2="199.30" y2="74.24" stroke="#151515" stroke-width="1.2"/><text x="194.00" y="77.24" font-size="8.96" text-anchor="end" font-weight="normal" fill="#222" textLength="11.12" lengthAdjust="spacingAndGlyphs" stroke="#222" stroke-width="0.12">1.6</text><line x1="196.00" y1="55.72" x2="199.30" y2="55.72" stroke="#151515" stroke-width="1.2"/><text x="194.00" y="58.72" font-size="8.96" text-anchor="end" font-weight="normal" fill="#222" textLength="11.12" lengthAdjust="spacingAndGlyphs" stroke="#222" stroke-width="0.12">1.7</text><line x1="196.00" y1="37.20" x2="199.30" y2="37.20" stroke="#151515" stroke-width="1.2"/><text x="194.00" y="40.20" font-size="8.96" text-anchor="end" font-weight="normal" fill="#222" textLength="11.12" lengthAdjust="spacingAndGlyphs" stroke="#222" stroke-width="0.12">1.8</text><line x1="198.55" y1="129.80" x2="341.00" y2="129.80" stroke="#151515" stroke-width="1.3"/><line x1="199.30" y1="129.80" x2="199.30" y2="132.80" stroke="#151515" stroke-width="1.2"/><text x="199.30" y="142.80" font-size="8.96" text-anchor="middle" font-weight="normal" fill="#222" textLength="4.45" lengthAdjust="spacingAndGlyphs" stroke="#222" stroke-width="0.12">0</text><line x1="245.63" y1="129.80" x2="245.63" y2="132.80" stroke="#151515" stroke-width="1.2"/><text x="245.63" y="142.80" font-size="8.96" text-anchor="middle" font-weight="normal" fill="#222" textLength="13.35" lengthAdjust="spacingAndGlyphs" stroke="#222" stroke-width="0.12">200</text><line x1="291.97" y1="129.80" x2="291.97" y2="132.80" stroke="#151515" stroke-width="1.2"/><text x="291.97" y="142.80" font-size="8.96" text-anchor="middle" font-weight="normal" fill="#222" textLength="13.35" lengthAdjust="spacingAndGlyphs" stroke="#222" stroke-width="0.12">400</text><line x1="338.30" y1="129.80" x2="338.30" y2="132.80" stroke="#151515" stroke-width="1.2"/><text x="338.30" y="142.80" font-size="8.96" text-anchor="middle" font-weight="normal" fill="#222" textLength="13.35" lengthAdjust="spacingAndGlyphs" stroke="#222" stroke-width="0.12">600</text><text x="270.00" y="156.20" font-size="10.37" text-anchor="middle" font-weight="normal" fill="#222" textLength="32.08" lengthAdjust="spacingAndGlyphs" stroke="#222" stroke-width="0.15">Time (s)</text><text x="270.20" y="28.50" font-size="10.27" text-anchor="middle" font-weight="bold" fill="#111" textLength="76.27" lengthAdjust="spacingAndGlyphs" >Thrombin 1U/mL</text><polygon points="366.00,114.13 367.00,113.72 368.00,113.85 369.00,113.89 370.00,114.94 371.00,114.41 372.00,113.95 373.00,114.36 374.00,114.19 375.00,114.14 376.00,114.49 377.00,114.03 378.00,114.43 379.00,114.39 380.00,114.98 381.00,114.58 382.00,114.77 383.00,114.23 384.00,114.09 385.00,114.60 386.00,114.10 387.00,114.28 388.00,114.18 389.00,114.67 390.00,114.39 391.00,114.06 392.00,113.97 393.00,114.24 394.00,114.57 395.00,114.62 396.00,114.88 397.00,114.86 398.00,114.47 399.00,114.13 400.00,114.95 401.00,114.58 402.00,114.18 403.00,113.90 404.00,114.62 405.00,114.95 406.00,113.92 407.00,114.94 408.00,114.16 409.00,113.76 409.00,120.24 408.00,121.41 407.00,121.23 406.00,120.98 405.00,121.56 404.00,121.69 403.00,121.02 402.00,120.87 401.00,120.94 400.00,121.07 399.00,120.78 398.00,121.25 397.00,121.48 396.00,121.63 395.00,121.53 394.00,120.86 393.00,120.69 392.00,120.43 391.00,120.79 390.00,120.78 389.00,121.33 388.00,120.91 387.00,120.95 386.00,120.81 385.00,121.07 384.00,120.67 383.00,121.10 382.00,121.57 381.00,121.16 380.00,121.45 379.00,121.57 378.00,121.75 377.00,120.55 376.00,120.83 375.00,120.62 374.00,121.48 373.00,120.87 372.00,120.79 371.00,121.30 370.00,121.48 369.00,120.30 368.00,120.63 367.00,120.32 366.00,120.72" fill="#858585" opacity="1.0"/><path d="M367.00,114.52V119.52M369.00,114.69V119.50M371.00,115.21V120.50M373.00,115.16V120.07M375.00,114.94V119.82M377.00,114.83V119.75M379.00,115.19V120.77M381.00,115.38V120.36M383.00,115.03V120.30M385.00,115.40V120.27M387.00,115.08V120.15M389.00,115.47V120.53M391.00,114.86V119.99M393.00,115.04V119.89M395.00,115.42V120.73M397.00,115.66V120.68M399.00,114.93V119.98M401.00,115.38V120.14M403.00,114.70V120.22M405.00,115.75V120.76M407.00,115.74V120.43M409.00,114.56V119.44" stroke="#ddd" stroke-width="0.6" opacity="0.4"/><path d="M366.00,114.13 L367.00,113.72 L368.00,113.85 L369.00,113.89 L370.00,114.94 L371.00,114.41 L372.00,113.95 L373.00,114.36 L374.00,114.19 L375.00,114.14 L376.00,114.49 L377.00,114.03 L378.00,114.43 L379.00,114.39 L380.00,114.98 L381.00,114.58 L382.00,114.77 L383.00,114.23 L384.00,114.09 L385.00,114.60 L386.00,114.10 L387.00,114.28 L388.00,114.18 L389.00,114.67 L390.00,114.39 L391.00,114.06 L392.00,113.97 L393.00,114.24 L394.00,114.57 L395.00,114.62 L396.00,114.88 L397.00,114.86 L398.00,114.47 L399.00,114.13 L400.00,114.95 L401.00,114.58 L402.00,114.18 L403.00,113.90 L404.00,114.62 L405.00,114.95 L406.00,113.92 L407.00,114.94 L408.00,114.16 L409.00,113.76" fill="none" stroke="#333" stroke-width="1.1"/><path d="M366.00,120.72 L367.00,120.32 L368.00,120.63 L369.00,120.30 L370.00,121.48 L371.00,121.30 L372.00,120.79 L373.00,120.87 L374.00,121.48 L375.00,120.62 L376.00,120.83 L377.00,120.55 L378.00,121.75 L379.00,121.57 L380.00,121.45 L381.00,121.16 L382.00,121.57 L383.00,121.10 L384.00,120.67 L385.00,121.07 L386.00,120.81 L387.00,120.95 L388.00,120.91 L389.00,121.33 L390.00,120.78 L391.00,120.79 L392.00,120.43 L393.00,120.69 L394.00,120.86 L395.00,121.53 L396.00,121.63 L397.00,121.48 L398.00,121.25 L399.00,120.78 L400.00,121.07 L401.00,120.94 L402.00,120.87 L403.00,121.02 L404.00,121.69 L405.00,121.56 L406.00,120.98 L407.00,121.23 L408.00,121.41 L409.00,120.24" fill="none" stroke="#333" stroke-width="1.1"/><polygon points="410.00,104.10 411.00,104.20 412.00,103.38 413.00,103.89 414.00,101.58 415.00,102.48 416.00,102.06 417.00,101.13 418.00,102.80 419.00,101.02 420.00,102.53 421.00,101.27 422.00,101.88 423.00,100.39 424.00,101.07 425.00,101.35 426.00,101.02 427.00,101.34 428.00,100.36 429.00,100.56 430.00,101.15 431.00,101.09 432.00,100.47 433.00,100.31 434.00,100.30 435.00,100.73 436.00,100.95 437.00,100.16 438.00,99.89 439.00,100.30 440.00,100.74 441.00,100.64 442.00,100.66 443.00,100.41 444.00,99.14 445.00,100.11 446.00,100.79 447.00,99.65 448.00,101.01 449.00,101.15 450.00,99.39 451.00,100.65 452.00,99.83 453.00,100.46 454.00,100.32 455.00,100.11 456.00,99.59 457.00,99.43 458.00,101.08 459.00,100.84 460.00,99.77 461.00,99.47 462.00,99.48 463.00,99.68 464.00,99.83 465.00,100.54 466.00,100.65 467.00,98.78 468.00,101.41 469.00,100.61 470.00,100.39 471.00,99.03 472.00,99.90 473.00,99.98 474.00,100.72 475.00,99.73 476.00,99.35 477.00,99.71 478.00,100.54 479.00,99.59 480.00,100.96 481.00,100.44 482.00,99.49 483.00,98.76 484.00,100.18 485.00,100.97 486.00,100.66 487.00,99.62 488.00,100.25 489.00,101.02 490.00,99.14 491.00,101.05 492.00,98.94 493.00,100.48 494.00,99.70 495.00,99.01 496.00,98.64 497.00,100.51 498.00,100.59 499.00,100.50 500.00,98.98 501.00,99.74 502.00,99.07 503.00,100.37 504.00,100.68 505.00,100.58 505.00,114.57 504.00,115.90 503.00,115.79 502.00,114.51 501.00,115.04 500.00,114.35 499.00,114.99 498.00,115.77 497.00,115.68 496.00,114.30 495.00,114.95 494.00,114.31 493.00,114.72 492.00,115.71 491.00,115.51 490.00,114.45 489.00,115.87 488.00,115.07 487.00,114.81 486.00,116.20 485.00,114.71 484.00,115.17 483.00,114.57 482.00,114.79 481.00,114.10 480.00,116.08 479.00,115.08 478.00,114.76 477.00,115.72 476.00,115.38 475.00,115.13 474.00,115.82 473.00,115.09 472.00,115.36 471.00,114.70 470.00,115.37 469.00,114.78 468.00,115.95 467.00,114.90 466.00,115.32 465.00,115.42 464.00,114.08 463.00,114.94 462.00,115.41 461.00,114.98 460.00,115.69 459.00,115.11 458.00,116.01 457.00,115.88 456.00,115.75 455.00,114.60 454.00,115.43 453.00,114.37 452.00,115.69 451.00,116.35 450.00,115.28 449.00,114.99 448.00,116.64 447.00,115.38 446.00,114.82 445.00,115.10 444.00,114.97 443.00,114.69 442.00,115.16 441.00,116.35 440.00,115.00 439.00,115.50 438.00,116.01 437.00,116.52 436.00,116.25 435.00,116.42 434.00,116.66 433.00,115.65 432.00,115.85 431.00,115.85 430.00,115.96 429.00,116.52 428.00,115.42 427.00,116.07 426.00,115.90 425.00,115.93 424.00,115.45 423.00,116.50 422.00,117.02 421.00,116.63 420.00,116.29 419.00,116.87 418.00,116.79 417.00,117.23 416.00,117.23 415.00,117.60 414.00,116.81 413.00,117.52 412.00,119.07 411.00,119.31 410.00,119.21" fill="#858585" opacity="1.0"/><path d="M411.00,105.00V118.51M413.00,104.69V116.72M415.00,103.28V116.80M417.00,101.93V116.43M419.00,101.82V116.07M421.00,102.07V115.83M423.00,101.19V115.70M425.00,102.15V115.13M427.00,102.14V115.27M429.00,101.36V115.72M431.00,101.89V115.05M433.00,101.11V114.85M435.00,101.53V115.62M437.00,100.96V115.72M439.00,101.10V114.70M441.00,101.44V115.55M443.00,101.21V113.89M445.00,100.91V114.30M447.00,100.45V114.58M449.00,101.95V114.19M451.00,101.45V115.55M453.00,101.26V113.57M455.00,100.91V113.80M457.00,100.23V115.08M459.00,101.64V114.31M461.00,100.27V114.18M463.00,100.48V114.14M465.00,101.34V114.62M467.00,99.58V114.10M469.00,101.41V113.98M471.00,99.83V113.90M473.00,100.78V114.29M475.00,100.53V114.33M477.00,100.51V114.92M479.00,100.39V114.28M481.00,101.24V113.30M483.00,99.56V113.77M485.00,101.77V113.91M487.00,100.42V114.01M489.00,101.82V115.07M491.00,101.85V114.71M493.00,101.28V113.92M495.00,99.81V114.15M497.00,101.31V114.88M499.00,101.30V114.19M501.00,100.54V114.24M503.00,101.17V114.99M505.00,101.38V113.77" stroke="#ddd" stroke-width="0.6" opacity="0.4"/><path d="M410.00,104.10 L411.00,104.20 L412.00,103.38 L413.00,103.89 L414.00,101.58 L415.00,102.48 L416.00,102.06 L417.00,101.13 L418.00,102.80 L419.00,101.02 L420.00,102.53 L421.00,101.27 L422.00,101.88 L423.00,100.39 L424.00,101.07 L425.00,101.35 L426.00,101.02 L427.00,101.34 L428.00,100.36 L429.00,100.56 L430.00,101.15 L431.00,101.09 L432.00,100.47 L433.00,100.31 L434.00,100.30 L435.00,100.73 L436.00,100.95 L437.00,100.16 L438.00,99.89 L439.00,100.30 L440.00,100.74 L441.00,100.64 L442.00,100.66 L443.00,100.41 L444.00,99.14 L445.00,100.11 L446.00,100.79 L447.00,99.65 L448.00,101.01 L449.00,101.15 L450.00,99.39 L451.00,100.65 L452.00,99.83 L453.00,100.46 L454.00,100.32 L455.00,100.11 L456.00,99.59 L457.00,99.43 L458.00,101.08 L459.00,100.84 L460.00,99.77 L461.00,99.47 L462.00,99.48 L463.00,99.68 L464.00,99.83 L465.00,100.54 L466.00,100.65 L467.00,98.78 L468.00,101.41 L469.00,100.61 L470.00,100.39 L471.00,99.03 L472.00,99.90 L473.00,99.98 L474.00,100.72 L475.00,99.73 L476.00,99.35 L477.00,99.71 L478.00,100.54 L479.00,99.59 L480.00,100.96 L481.00,100.44 L482.00,99.49 L483.00,98.76 L484.00,100.18 L485.00,100.97 L486.00,100.66 L487.00,99.62 L488.00,100.25 L489.00,101.02 L490.00,99.14 L491.00,101.05 L492.00,98.94 L493.00,100.48 L494.00,99.70 L495.00,99.01 L496.00,98.64 L497.00,100.51 L498.00,100.59 L499.00,100.50 L500.00,98.98 L501.00,99.74 L502.00,99.07 L503.00,100.37 L504.00,100.68 L505.00,100.58" fill="none" stroke="#333" stroke-width="1.1"/><path d="M410.00,119.21 L411.00,119.31 L412.00,119.07 L413.00,117.52 L414.00,116.81 L415.00,117.60 L416.00,117.23 L417.00,117.23 L418.00,116.79 L419.00,116.87 L420.00,116.29 L421.00,116.63 L422.00,117.02 L423.00,116.50 L424.00,115.45 L425.00,115.93 L426.00,115.90 L427.00,116.07 L428.00,115.42 L429.00,116.52 L430.00,115.96 L431.00,115.85 L432.00,115.85 L433.00,115.65 L434.00,116.66 L435.00,116.42 L436.00,116.25 L437.00,116.52 L438.00,116.01 L439.00,115.50 L440.00,115.00 L441.00,116.35 L442.00,115.16 L443.00,114.69 L444.00,114.97 L445.00,115.10 L446.00,114.82 L447.00,115.38 L448.00,116.64 L449.00,114.99 L450.00,115.28 L451.00,116.35 L452.00,115.69 L453.00,114.37 L454.00,115.43 L455.00,114.60 L456.00,115.75 L457.00,115.88 L458.00,116.01 L459.00,115.11 L460.00,115.69 L461.00,114.98 L462.00,115.41 L463.00,114.94 L464.00,114.08 L465.00,115.42 L466.00,115.32 L467.00,114.90 L468.00,115.95 L469.00,114.78 L470.00,115.37 L471.00,114.70 L472.00,115.36 L473.00,115.09 L474.00,115.82 L475.00,115.13 L476.00,115.38 L477.00,115.72 L478.00,114.76 L479.00,115.08 L480.00,116.08 L481.00,114.10 L482.00,114.79 L483.00,114.57 L484.00,115.17 L485.00,114.71 L486.00,116.20 L487.00,114.81 L488.00,115.07 L489.00,115.87 L490.00,114.45 L491.00,115.51 L492.00,115.71 L493.00,114.72 L494.00,114.31 L495.00,114.95 L496.00,114.30 L497.00,115.68 L498.00,115.77 L499.00,114.99 L500.00,114.35 L501.00,115.04 L502.00,114.51 L503.00,115.79 L504.00,115.90 L505.00,114.57" fill="none" stroke="#333" stroke-width="1.1"/><path d="M366.00,117.46 L367.00,117.38 L368.00,117.74 L369.00,117.34 L370.00,118.02 L371.00,118.16 L372.00,117.58 L373.00,117.72 L374.00,117.97 L375.00,117.46 L376.00,117.86 L377.00,117.39 L378.00,118.27 L379.00,118.27 L380.00,118.11 L381.00,117.91 L382.00,118.25 L383.00,117.60 L384.00,117.33 L385.00,117.75 L386.00,117.67 L387.00,117.83 L388.00,117.41 L389.00,117.85 L390.00,117.55 L391.00,117.55 L392.00,117.53 L393.00,117.81 L394.00,117.71 L395.00,118.16 L396.00,118.06 L397.00,118.02 L398.00,117.69 L399.00,117.86 L400.00,118.08 L401.00,117.67 L402.00,117.51 L403.00,117.73 L404.00,118.17 L405.00,118.17 L406.00,117.64 L407.00,118.13 L408.00,118.04 L409.00,117.34" fill="none" stroke="#111" stroke-width="1.5" stroke-linejoin="round" opacity="1.0"/><path d="M410.00,112.68 L411.00,112.54 L412.00,111.28 L413.00,111.15 L414.00,110.16 L415.00,110.08 L416.00,109.38 L417.00,109.50 L418.00,109.87 L419.00,109.03 L420.00,109.63 L421.00,109.61 L422.00,109.23 L423.00,109.10 L424.00,108.74 L425.00,109.52 L426.00,108.76 L427.00,109.12 L428.00,108.51 L429.00,108.48 L430.00,108.47 L431.00,108.65 L432.00,108.60 L433.00,109.25 L434.00,108.82 L435.00,108.99 L436.00,108.54 L437.00,109.00 L438.00,108.39 L439.00,108.56 L440.00,108.56 L441.00,108.30 L442.00,108.41 L443.00,108.12 L444.00,107.85 L445.00,108.25 L446.00,107.96 L447.00,108.09 L448.00,108.71 L449.00,108.34 L450.00,108.33 L451.00,108.51 L452.00,107.80 L453.00,108.00 L454.00,107.87 L455.00,107.92 L456.00,108.29 L457.00,107.88 L458.00,108.27 L459.00,108.54 L460.00,107.84 L461.00,108.28 L462.00,107.96 L463.00,108.03 L464.00,107.67 L465.00,108.23 L466.00,108.19 L467.00,107.59 L468.00,108.56 L469.00,108.28 L470.00,107.71 L471.00,107.63 L472.00,108.07 L473.00,108.18 L474.00,108.25 L475.00,108.26 L476.00,108.26 L477.00,107.76 L478.00,107.60 L479.00,108.12 L480.00,108.44 L481.00,107.53 L482.00,107.49 L483.00,107.60 L484.00,107.56 L485.00,108.32 L486.00,108.17 L487.00,107.88 L488.00,108.17 L489.00,108.26 L490.00,107.42 L491.00,108.20 L492.00,107.74 L493.00,107.95 L494.00,107.57 L495.00,107.50 L496.00,107.59 L497.00,107.85 L498.00,108.14 L499.00,108.08 L500.00,107.74 L501.00,107.92 L502.00,107.81 L503.00,108.10 L504.00,108.07 L505.00,108.19" fill="none" stroke="#111" stroke-width="1.5" stroke-linejoin="round" opacity="1.0"/><polygon points="366.00,102.47 367.00,103.86 368.00,103.04 369.00,102.91 370.00,103.14 371.00,102.92 372.00,103.72 373.00,102.98 374.00,102.37 375.00,103.85 376.00,102.89 377.00,103.64 378.00,103.48 379.00,102.89 380.00,102.58 381.00,103.59 382.00,103.28 383.00,103.27 384.00,103.41 385.00,103.32 386.00,103.04 387.00,103.49 388.00,102.78 389.00,103.15 390.00,104.05 391.00,103.80 392.00,103.26 393.00,102.57 394.00,103.93 395.00,102.92 396.00,102.68 397.00,103.19 398.00,102.94 399.00,103.15 400.00,103.49 401.00,103.19 402.00,103.30 403.00,103.48 404.00,103.01 405.00,103.38 406.00,103.61 407.00,103.00 408.00,102.64 409.00,103.10 409.00,109.08 408.00,108.35 407.00,108.57 406.00,109.14 405.00,108.46 404.00,108.69 403.00,109.06 402.00,108.66 401.00,108.71 400.00,108.93 399.00,108.76 398.00,108.63 397.00,108.95 396.00,108.22 395.00,108.55 394.00,109.23 393.00,108.49 392.00,108.40 391.00,109.19 390.00,109.26 389.00,108.37 388.00,108.55 387.00,108.81 386.00,109.11 385.00,108.88 384.00,108.68 383.00,108.74 382.00,108.19 381.00,108.74 380.00,108.65 379.00,108.61 378.00,108.61 377.00,109.03 376.00,108.14 375.00,109.07 374.00,108.11 373.00,108.19 372.00,108.89 371.00,108.41 370.00,109.20 369.00,108.54 368.00,108.41 367.00,109.25 366.00,108.02" fill="#f48a80" opacity="1.0"/><path d="M367.00,104.66V108.45M369.00,103.71V107.74M371.00,103.72V107.61M373.00,103.78V107.39M375.00,104.65V108.27M377.00,104.44V108.23M379.00,103.69V107.81M381.00,104.39V107.94M383.00,104.07V107.94M385.00,104.12V108.08M387.00,104.29V108.01M389.00,103.95V107.57M391.00,104.60V108.39M393.00,103.37V107.69M395.00,103.72V107.75M397.00,103.99V108.15M399.00,103.95V107.96M401.00,103.99V107.91M403.00,104.28V108.26M405.00,104.18V107.66M407.00,103.80V107.77M409.00,103.90V108.28" stroke="#fff" stroke-width="0.6" opacity="0.2"/><polygon points="410.00,68.78 411.00,67.42 412.00,66.54 413.00,64.70 414.00,65.83 415.00,66.28 416.00,66.08 417.00,66.24 418.00,67.35 419.00,67.41 420.00,67.46 421.00,67.65 422.00,68.51 423.00,68.26 424.00,68.85 425.00,69.60 426.00,69.70 427.00,69.79 428.00,70.61 429.00,70.14 430.00,70.95 431.00,71.20 432.00,71.47 433.00,70.99 434.00,70.98 435.00,71.41 436.00,71.57 437.00,72.09 438.00,72.25 439.00,71.85 440.00,72.66 441.00,72.86 442.00,72.88 443.00,73.52 444.00,73.45 445.00,73.62 446.00,73.73 447.00,73.41 448.00,72.84 449.00,73.78 450.00,74.29 451.00,74.25 452.00,74.04 453.00,73.91 454.00,74.01 455.00,73.75 456.00,74.34 457.00,74.18 458.00,73.81 459.00,73.66 460.00,73.21 461.00,73.67 462.00,73.11 463.00,73.24 464.00,74.08 465.00,72.62 466.00,73.53 467.00,73.50 468.00,73.72 469.00,73.05 470.00,72.83 471.00,73.21 472.00,73.24 473.00,73.26 474.00,72.62 475.00,72.28 476.00,72.98 477.00,71.74 478.00,72.53 479.00,72.52 480.00,71.68 481.00,71.74 482.00,72.51 483.00,71.89 484.00,71.59 485.00,71.20 486.00,71.15 487.00,71.75 488.00,70.70 489.00,70.57 490.00,70.84 491.00,71.39 492.00,70.88 493.00,71.46 494.00,71.04 495.00,70.36 496.00,70.87 497.00,71.03 498.00,70.17 499.00,70.27 500.00,69.77 501.00,70.42 502.00,70.31 503.00,69.87 504.00,69.82 505.00,70.14 505.00,78.00 504.00,77.43 503.00,77.91 502.00,78.38 501.00,78.72 500.00,77.95 499.00,78.05 498.00,78.08 497.00,78.85 496.00,78.34 495.00,78.72 494.00,78.74 493.00,79.50 492.00,78.57 491.00,79.03 490.00,79.07 489.00,78.42 488.00,79.40 487.00,79.02 486.00,79.56 485.00,79.12 484.00,79.73 483.00,80.29 482.00,80.65 481.00,79.48 480.00,79.90 479.00,80.34 478.00,80.01 477.00,80.51 476.00,81.21 475.00,79.96 474.00,80.48 473.00,81.24 472.00,80.47 471.00,81.45 470.00,81.12 469.00,80.27 468.00,81.87 467.00,81.02 466.00,81.71 465.00,81.04 464.00,81.82 463.00,80.87 462.00,80.95 461.00,82.10 460.00,81.72 459.00,81.79 458.00,81.80 457.00,81.60 456.00,82.54 455.00,81.67 454.00,81.87 453.00,81.17 452.00,82.68 451.00,81.66 450.00,82.35 449.00,81.36 448.00,81.01 447.00,81.29 446.00,82.39 445.00,81.64 444.00,80.96 443.00,81.34 442.00,80.81 441.00,80.84 440.00,80.48 439.00,80.06 438.00,80.35 437.00,80.45 436.00,79.83 435.00,79.60 434.00,79.02 433.00,79.60 432.00,79.40 431.00,78.59 430.00,78.99 429.00,78.17 428.00,78.36 427.00,77.87 426.00,77.82 425.00,77.00 424.00,77.10 423.00,76.76 422.00,76.66 421.00,75.59 420.00,75.04 419.00,74.79 418.00,74.99 417.00,74.24 416.00,74.61 415.00,74.39 414.00,73.37 413.00,72.98 412.00,73.90 411.00,75.28 410.00,76.27" fill="#f48a80" opacity="1.0"/><path d="M411.00,68.22V74.48M413.00,65.50V72.18M415.00,67.08V73.59M417.00,67.04V73.44M419.00,68.21V73.99M421.00,68.45V74.79M423.00,69.06V75.96M425.00,70.40V76.20M427.00,70.59V77.07M429.00,70.94V77.37M431.00,72.00V77.79M433.00,71.79V78.80M435.00,72.21V78.80M437.00,72.89V79.65M439.00,72.65V79.26M441.00,73.66V80.04M443.00,74.32V80.54M445.00,74.42V80.84M447.00,74.21V80.49M449.00,74.58V80.56M451.00,75.05V80.86M453.00,74.71V80.37M455.00,74.55V80.87M457.00,74.98V80.80M459.00,74.46V80.99M461.00,74.47V81.30M463.00,74.04V80.07M465.00,73.42V80.24M467.00,74.30V80.22M469.00,73.85V79.47M471.00,74.01V80.65M473.00,74.06V80.44M475.00,73.08V79.16M477.00,72.54V79.71M479.00,73.32V79.54M481.00,72.54V78.68M483.00,72.69V79.49M485.00,72.00V78.32M487.00,72.55V78.22M489.00,71.37V77.62M491.00,72.19V78.23M493.00,72.26V78.70M495.00,71.16V77.92M497.00,71.83V78.05M499.00,71.07V77.25M501.00,71.22V77.92M503.00,70.67V77.11M505.00,70.94V77.20" stroke="#fff" stroke-width="0.6" opacity="0.2"/><polygon points="366.00,108.77 367.00,108.81 368.00,108.72 369.00,109.45 370.00,108.93 371.00,109.50 372.00,108.61 373.00,108.51 374.00,109.27 375.00,109.13 376.00,108.67 377.00,108.46 378.00,109.43 379.00,108.66 380.00,109.50 381.00,108.77 382.00,109.43 383.00,108.86 384.00,108.49 385.00,109.31 386.00,108.99 387.00,109.35 388.00,109.14 389.00,109.33 390.00,109.34 391.00,108.40 392.00,109.23 393.00,109.24 394.00,109.12 395.00,108.47 396.00,109.72 397.00,109.47 398.00,108.95 399.00,108.74 400.00,109.03 401.00,109.07 402.00,109.21 403.00,108.48 404.00,108.77 405.00,109.65 406.00,108.80 407.00,108.84 408.00,109.04 409.00,109.26 409.00,115.19 408.00,114.73 407.00,114.89 406.00,114.74 405.00,115.29 404.00,115.08 403.00,114.83 402.00,115.37 401.00,115.42 400.00,115.11 399.00,115.03 398.00,114.70 397.00,115.53 396.00,115.78 395.00,114.82 394.00,115.59 393.00,115.26 392.00,115.64 391.00,114.95 390.00,115.64 389.00,114.97 388.00,115.05 387.00,115.23 386.00,115.46 385.00,115.29 384.00,115.19 383.00,114.44 382.00,115.07 381.00,114.76 380.00,115.37 379.00,114.61 378.00,115.54 377.00,114.68 376.00,115.09 375.00,114.97 374.00,115.15 373.00,114.49 372.00,114.54 371.00,115.08 370.00,114.88 369.00,115.65 368.00,114.65 367.00,114.89 366.00,114.48" fill="#9a93d4" opacity="0.85"/><path d="M367.00,109.61V114.09M369.00,110.25V114.85M371.00,110.30V114.28M373.00,109.31V113.69M375.00,109.93V114.17M377.00,109.26V113.88M379.00,109.46V113.81M381.00,109.57V113.96M383.00,109.66V113.64M385.00,110.11V114.49M387.00,110.15V114.43M389.00,110.13V114.17M391.00,109.20V114.15M393.00,110.04V114.46M395.00,109.27V114.02M397.00,110.27V114.73M399.00,109.54V114.23M401.00,109.87V114.62M403.00,109.28V114.03M405.00,110.45V114.49M407.00,109.64V114.09M409.00,110.06V114.39" stroke="#fff" stroke-width="0.6" opacity="0.25"/><polygon points="410.00,51.82 411.00,50.07 412.00,48.47 413.00,49.71 414.00,50.63 415.00,51.15 416.00,51.94 417.00,52.03 418.00,55.00 419.00,55.02 420.00,55.02 421.00,57.13 422.00,57.55 423.00,57.56 424.00,57.90 425.00,59.92 426.00,60.15 427.00,59.71 428.00,59.79 429.00,61.32 430.00,61.27 431.00,61.99 432.00,63.17 433.00,64.11 434.00,64.35 435.00,63.74 436.00,64.75 437.00,63.43 438.00,64.67 439.00,65.04 440.00,65.64 441.00,65.26 442.00,65.32 443.00,65.16 444.00,66.78 445.00,65.36 446.00,66.57 447.00,66.73 448.00,66.92 449.00,66.07 450.00,66.14 451.00,67.38 452.00,67.85 453.00,67.36 454.00,68.26 455.00,68.04 456.00,68.15 457.00,66.40 458.00,66.39 459.00,67.80 460.00,67.04 461.00,68.05 462.00,66.13 463.00,66.41 464.00,66.58 465.00,65.77 466.00,65.30 467.00,65.87 468.00,65.98 469.00,65.79 470.00,65.74 471.00,66.09 472.00,65.04 473.00,64.92 474.00,64.70 475.00,64.95 476.00,63.98 477.00,65.15 478.00,63.88 479.00,64.52 480.00,63.30 481.00,63.36 482.00,64.42 483.00,64.42 484.00,63.05 485.00,64.45 486.00,63.19 487.00,63.03 488.00,61.77 489.00,62.22 490.00,61.34 491.00,62.42 492.00,61.78 493.00,61.86 494.00,60.80 495.00,61.04 496.00,62.97 497.00,61.17 498.00,61.60 499.00,61.05 500.00,60.20 501.00,61.47 502.00,60.94 503.00,59.77 504.00,59.99 505.00,61.49 505.00,76.14 504.00,77.35 503.00,77.26 502.00,76.55 501.00,77.15 500.00,76.70 499.00,76.41 498.00,77.14 497.00,77.25 496.00,77.87 495.00,77.54 494.00,78.19 493.00,77.79 492.00,78.12 491.00,77.23 490.00,76.80 489.00,78.57 488.00,77.50 487.00,78.38 486.00,78.40 485.00,79.59 484.00,78.53 483.00,78.78 482.00,78.68 481.00,78.46 480.00,80.15 479.00,78.64 478.00,79.48 477.00,79.28 476.00,80.01 475.00,81.13 474.00,81.12 473.00,80.62 472.00,80.28 471.00,81.37 470.00,80.85 469.00,81.47 468.00,80.00 467.00,81.91 466.00,81.07 465.00,81.09 464.00,81.74 463.00,81.69 462.00,82.15 461.00,81.87 460.00,82.09 459.00,81.90 458.00,81.63 457.00,81.91 456.00,82.92 455.00,82.47 454.00,82.32 453.00,82.45 452.00,82.31 451.00,82.75 450.00,81.43 449.00,81.16 448.00,80.95 447.00,80.95 446.00,81.63 445.00,81.68 444.00,80.31 443.00,79.75 442.00,80.70 441.00,80.28 440.00,79.88 439.00,80.52 438.00,79.58 437.00,79.37 436.00,79.25 435.00,78.49 434.00,78.18 433.00,78.48 432.00,78.16 431.00,76.64 430.00,77.39 429.00,76.79 428.00,75.02 427.00,75.59 426.00,75.07 425.00,75.09 424.00,73.27 423.00,73.89 422.00,72.69 421.00,71.79 420.00,70.66 419.00,70.61 418.00,69.93 417.00,68.17 416.00,68.44 415.00,67.86 414.00,65.78 413.00,64.64 412.00,64.20 411.00,67.16 410.00,67.98" fill="#9a93d4" opacity="0.85"/><path d="M411.00,50.87V66.36M413.00,50.51V63.84M415.00,51.95V67.06M417.00,52.83V67.37M419.00,55.82V69.81M421.00,57.93V70.99M423.00,58.36V73.09M425.00,60.72V74.29M427.00,60.51V74.79M429.00,62.12V75.99M431.00,62.79V75.84M433.00,64.91V77.68M435.00,64.54V77.69M437.00,64.23V78.57M439.00,65.84V79.72M441.00,66.06V79.48M443.00,65.96V78.95M445.00,66.16V80.88M447.00,67.53V80.15M449.00,66.87V80.36M451.00,68.18V81.95M453.00,68.16V81.65M455.00,68.84V81.67M457.00,67.20V81.11M459.00,68.60V81.10M461.00,68.85V81.07M463.00,67.21V80.89M465.00,66.57V80.29M467.00,66.67V81.11M469.00,66.59V80.67M471.00,66.89V80.57M473.00,65.72V79.82M475.00,65.75V80.33M477.00,65.95V78.48M479.00,65.32V77.84M481.00,64.16V77.66M483.00,65.22V77.98M485.00,65.25V78.79M487.00,63.83V77.58M489.00,63.02V77.77M491.00,63.22V76.43M493.00,62.66V76.99M495.00,61.84V76.74M497.00,61.97V76.45M499.00,61.85V75.61M501.00,62.27V76.35M503.00,60.57V76.46M505.00,62.29V75.34" stroke="#fff" stroke-width="0.6" opacity="0.25"/><path d="M366.00,111.70 L367.00,111.63 L368.00,112.00 L369.00,112.44 L370.00,112.07 L371.00,112.25 L372.00,111.53 L373.00,111.79 L374.00,112.08 L375.00,112.28 L376.00,111.75 L377.00,111.54 L378.00,112.31 L379.00,111.96 L380.00,112.44 L381.00,111.59 L382.00,112.18 L383.00,111.64 L384.00,111.83 L385.00,112.29 L386.00,112.28 L387.00,112.14 L388.00,112.35 L389.00,112.22 L390.00,112.47 L391.00,111.63 L392.00,112.40 L393.00,112.30 L394.00,112.33 L395.00,111.80 L396.00,112.45 L397.00,112.29 L398.00,111.73 L399.00,111.74 L400.00,112.19 L401.00,112.28 L402.00,112.44 L403.00,111.59 L404.00,111.84 L405.00,112.29 L406.00,111.52 L407.00,111.92 L408.00,111.84 L409.00,112.34" fill="none" stroke="#25229a" stroke-width="4.0" stroke-linejoin="round" opacity="1.0"/><path d="M410.00,60.64 L411.00,59.64 L412.00,57.97 L413.00,58.02 L414.00,59.24 L415.00,60.20 L416.00,60.67 L417.00,61.70 L418.00,62.88 L419.00,62.86 L420.00,64.08 L421.00,64.70 L422.00,65.90 L423.00,66.61 L424.00,66.36 L425.00,67.82 L426.00,68.04 L427.00,68.59 L428.00,68.76 L429.00,69.69 L430.00,69.73 L431.00,70.42 L432.00,70.40 L433.00,71.33 L434.00,71.36 L435.00,71.86 L436.00,72.18 L437.00,72.12 L438.00,72.78 L439.00,73.20 L440.00,72.76 L441.00,73.54 L442.00,73.07 L443.00,73.30 L444.00,73.65 L445.00,73.90 L446.00,73.88 L447.00,74.06 L448.00,74.13 L449.00,74.55 L450.00,74.51 L451.00,75.28 L452.00,74.88 L453.00,75.16 L454.00,75.56 L455.00,75.83 L456.00,75.47 L457.00,74.80 L458.00,75.02 L459.00,74.82 L460.00,75.24 L461.00,75.19 L462.00,74.93 L463.00,74.87 L464.00,75.00 L465.00,74.34 L466.00,74.02 L467.00,74.24 L468.00,73.73 L469.00,73.88 L470.00,74.01 L471.00,73.79 L472.00,73.87 L473.00,73.62 L474.00,73.71 L475.00,73.50 L476.00,72.67 L477.00,73.01 L478.00,72.86 L479.00,72.33 L480.00,72.64 L481.00,72.18 L482.00,72.51 L483.00,72.16 L484.00,71.44 L485.00,72.04 L486.00,71.19 L487.00,71.26 L488.00,70.99 L489.00,71.51 L490.00,70.59 L491.00,70.96 L492.00,70.98 L493.00,70.64 L494.00,70.36 L495.00,70.83 L496.00,70.90 L497.00,69.94 L498.00,70.41 L499.00,69.78 L500.00,69.67 L501.00,69.80 L502.00,69.45 L503.00,69.84 L504.00,69.98 L505.00,69.64" fill="none" stroke="#25229a" stroke-width="4.0" stroke-linejoin="round" opacity="1.0"/><path d="M366.00,105.81 L367.00,106.61 L368.00,105.80 L369.00,105.79 L370.00,106.42 L371.00,105.73 L372.00,106.39 L373.00,105.93 L374.00,105.72 L375.00,106.58 L376.00,105.84 L377.00,106.39 L378.00,106.20 L379.00,106.20 L380.00,105.92 L381.00,106.43 L382.00,105.96 L383.00,106.21 L384.00,106.06 L385.00,106.35 L386.00,106.39 L387.00,106.42 L388.00,106.12 L389.00,106.09 L390.00,106.70 L391.00,106.63 L392.00,106.08 L393.00,105.82 L394.00,106.61 L395.00,106.02 L396.00,106.02 L397.00,106.45 L398.00,106.29 L399.00,106.33 L400.00,106.41 L401.00,106.31 L402.00,106.33 L403.00,106.31 L404.00,106.17 L405.00,106.18 L406.00,106.63 L407.00,106.23 L408.00,105.87 L409.00,106.34" fill="none" stroke="#ee1a1f" stroke-width="4.0" stroke-linejoin="round"/><path d="M410.00,71.89 L411.00,71.18 L412.00,69.83 L413.00,68.46 L414.00,68.99 L415.00,69.95 L416.00,69.83 L417.00,69.89 L418.00,70.63 L419.00,70.81 L420.00,71.02 L421.00,71.33 L422.00,71.80 L423.00,71.87 L424.00,72.28 L425.00,72.99 L426.00,73.09 L427.00,73.21 L428.00,73.98 L429.00,74.00 L430.00,74.63 L431.00,74.56 L432.00,74.87 L433.00,74.82 L434.00,74.56 L435.00,75.19 L436.00,75.40 L437.00,75.60 L438.00,75.96 L439.00,75.50 L440.00,76.39 L441.00,76.00 L442.00,76.04 L443.00,76.65 L444.00,76.94 L445.00,77.05 L446.00,77.49 L447.00,76.77 L448.00,76.75 L449.00,77.13 L450.00,77.84 L451.00,77.38 L452.00,77.80 L453.00,77.16 L454.00,77.40 L455.00,77.32 L456.00,77.59 L457.00,77.30 L458.00,77.23 L459.00,76.97 L460.00,76.89 L461.00,77.13 L462.00,76.93 L463.00,76.86 L464.00,77.22 L465.00,76.47 L466.00,77.02 L467.00,76.83 L468.00,76.92 L469.00,76.21 L470.00,76.71 L471.00,76.51 L472.00,76.45 L473.00,76.38 L474.00,75.89 L475.00,75.83 L476.00,76.34 L477.00,75.49 L478.00,75.64 L479.00,75.79 L480.00,75.15 L481.00,75.39 L482.00,75.69 L483.00,75.76 L484.00,74.96 L485.00,75.06 L486.00,74.95 L487.00,74.90 L488.00,74.53 L489.00,74.43 L490.00,74.74 L491.00,75.02 L492.00,74.34 L493.00,74.69 L494.00,74.18 L495.00,73.91 L496.00,74.34 L497.00,74.19 L498.00,73.74 L499.00,73.91 L500.00,73.64 L501.00,74.24 L502.00,73.47 L503.00,73.37 L504.00,73.30 L505.00,73.64" fill="none" stroke="#d41a3c" stroke-width="3.0" stroke-linejoin="round"/><line x1="409.90" y1="104.00" x2="409.90" y2="52.00" stroke="#3a2f80" stroke-width="1.0"/><circle cx="409.90" cy="102" r="1.4" fill="#25229a"/><circle cx="409.90" cy="96" r="1.4" fill="#25229a"/><circle cx="409.90" cy="90" r="1.4" fill="#ee1a1f"/><circle cx="409.90" cy="84" r="1.4" fill="#25229a"/><circle cx="409.90" cy="78" r="1.4" fill="#6a2a70"/><circle cx="409.90" cy="73" r="1.4" fill="#25229a"/><circle cx="409.90" cy="67" r="1.4" fill="#c0203a"/><circle cx="409.90" cy="61" r="1.4" fill="#25229a"/><circle cx="409.90" cy="55" r="1.4" fill="#25229a"/><line x1="365.90" y1="35.30" x2="365.90" y2="131.35" stroke="#151515" stroke-width="1.3"/><line x1="362.60" y1="37.88" x2="365.90" y2="37.88" stroke="#151515" stroke-width="1.2"/><text x="360.60" y="40.88" font-size="8.96" text-anchor="end" font-weight="normal" fill="#222" textLength="11.12" lengthAdjust="spacingAndGlyphs" stroke="#222" stroke-width="0.12">2.0</text><line x1="362.60" y1="64.40" x2="365.90" y2="64.40" stroke="#151515" stroke-width="1.2"/><text x="360.60" y="67.40" font-size="8.96" text-anchor="end" font-weight="normal" fill="#222" textLength="11.12" lengthAdjust="spacingAndGlyphs" stroke="#222" stroke-width="0.12">1.8</text><line x1="362.60" y1="90.92" x2="365.90" y2="90.92" stroke="#151515" stroke-width="1.2"/><text x="360.60" y="93.92" font-size="8.96" text-anchor="end" font-weight="normal" fill="#222" textLength="11.12" lengthAdjust="spacingAndGlyphs" stroke="#222" stroke-width="0.12">1.6</text><line x1="362.60" y1="117.44" x2="365.90" y2="117.44" stroke="#151515" stroke-width="1.2"/><text x="360.60" y="120.44" font-size="8.96" text-anchor="end" font-weight="normal" fill="#222" textLength="11.12" lengthAdjust="spacingAndGlyphs" stroke="#222" stroke-width="0.12">1.4</text><line x1="365.15" y1="130.70" x2="507.50" y2="130.70" stroke="#151515" stroke-width="1.3"/><line x1="365.90" y1="130.70" x2="365.90" y2="133.70" stroke="#151515" stroke-width="1.2"/><text x="365.90" y="143.70" font-size="8.96" text-anchor="middle" font-weight="normal" fill="#222" textLength="4.45" lengthAdjust="spacingAndGlyphs" stroke="#222" stroke-width="0.12">0</text><line x1="412.40" y1="130.70" x2="412.40" y2="133.70" stroke="#151515" stroke-width="1.2"/><text x="412.40" y="143.70" font-size="8.96" text-anchor="middle" font-weight="normal" fill="#222" textLength="13.35" lengthAdjust="spacingAndGlyphs" stroke="#222" stroke-width="0.12">200</text><line x1="458.90" y1="130.70" x2="458.90" y2="133.70" stroke="#151515" stroke-width="1.2"/><text x="458.90" y="143.70" font-size="8.96" text-anchor="middle" font-weight="normal" fill="#222" textLength="13.35" lengthAdjust="spacingAndGlyphs" stroke="#222" stroke-width="0.12">400</text><line x1="505.40" y1="130.70" x2="505.40" y2="133.70" stroke="#151515" stroke-width="1.2"/><text x="505.40" y="143.70" font-size="8.96" text-anchor="middle" font-weight="normal" fill="#222" textLength="13.35" lengthAdjust="spacingAndGlyphs" stroke="#222" stroke-width="0.12">600</text><text x="436.50" y="157.00" font-size="10.37" text-anchor="middle" font-weight="normal" fill="#222" textLength="32.08" lengthAdjust="spacingAndGlyphs" stroke="#222" stroke-width="0.15">Time (s)</text><text x="436.50" y="28.50" font-size="10.27" text-anchor="middle" font-weight="bold" fill="#111" textLength="81.60" lengthAdjust="spacingAndGlyphs" >Thrombin 10U/mL</text><text x="7.60" y="17.00" font-size="11.50" text-anchor="start" font-weight="bold" fill="#111" >A</text><text x="7.60" y="173.80" font-size="11.00" text-anchor="start" font-weight="bold" fill="#111" >B</text><text x="170.20" y="174.20" font-size="11.50" text-anchor="start" font-weight="bold" fill="#111" >C</text><line x1="36.30" y1="180.80" x2="36.30" y2="272.75" stroke="#151515" stroke-width="1.3"/><line x1="33.00" y1="183.38" x2="36.30" y2="183.38" stroke="#151515" stroke-width="1.2"/><text x="31.00" y="186.38" font-size="8.96" text-anchor="end" font-weight="normal" fill="#222" textLength="11.12" lengthAdjust="spacingAndGlyphs" stroke="#222" stroke-width="0.12">1.2</text><line x1="33.00" y1="205.56" x2="36.30" y2="205.56" stroke="#151515" stroke-width="1.2"/><text x="31.00" y="208.56" font-size="8.96" text-anchor="end" font-weight="normal" fill="#222" textLength="11.12" lengthAdjust="spacingAndGlyphs" stroke="#222" stroke-width="0.12">1.1</text><line x1="33.00" y1="227.74" x2="36.30" y2="227.74" stroke="#151515" stroke-width="1.2"/><text x="31.00" y="230.74" font-size="8.96" text-anchor="end" font-weight="normal" fill="#222" textLength="11.12" lengthAdjust="spacingAndGlyphs" stroke="#222" stroke-width="0.12">1.0</text><line x1="33.00" y1="249.92" x2="36.30" y2="249.92" stroke="#151515" stroke-width="1.2"/><text x="31.00" y="252.92" font-size="8.96" text-anchor="end" font-weight="normal" fill="#222" textLength="11.12" lengthAdjust="spacingAndGlyphs" stroke="#222" stroke-width="0.12">0.9</text><line x1="33.00" y1="272.10" x2="36.30" y2="272.10" stroke="#151515" stroke-width="1.2"/><text x="31.00" y="275.10" font-size="8.96" text-anchor="end" font-weight="normal" fill="#222" textLength="11.12" lengthAdjust="spacingAndGlyphs" stroke="#222" stroke-width="0.12">0.8</text><line x1="35.55" y1="272.10" x2="158.70" y2="272.10" stroke="#151515" stroke-width="1.3"/><line x1="68.00" y1="272.10" x2="68.00" y2="275.10" stroke="#151515" stroke-width="1.2"/><line x1="131.70" y1="272.10" x2="131.70" y2="275.10" stroke="#151515" stroke-width="1.2"/><text x="68.00" y="285.80" font-size="9.13" text-anchor="middle" font-weight="normal" fill="#222" textLength="26.76" lengthAdjust="spacingAndGlyphs" stroke="#222" stroke-width="0.12">Control</text><text x="131.70" y="285.80" font-size="9.13" text-anchor="middle" font-weight="normal" fill="#222" textLength="38.27" lengthAdjust="spacingAndGlyphs" stroke="#222" stroke-width="0.12">WDR1 KD</text><text x="0" y="0" font-size="9.13" text-anchor="middle" font-weight="normal" fill="#222" textLength="64.66" lengthAdjust="spacingAndGlyphs" transform="translate(15.8,226) rotate(-90)" stroke="#222" stroke-width="0.12">Normalized ratio</text><rect x="46.60" y="223.60" width="42.80" height="14.30" fill="none" stroke="#d2232f" stroke-width="1.2"/><line x1="46.60" y1="226.50" x2="89.40" y2="226.50" stroke="#d2232f" stroke-width="1.2"/><line x1="68.00" y1="205.40" x2="68.00" y2="223.60" stroke="#d2232f" stroke-width="1.2"/><line x1="68.00" y1="237.90" x2="68.00" y2="243.60" stroke="#d2232f" stroke-width="1.2"/><line x1="57.50" y1="205.40" x2="78.50" y2="205.40" stroke="#d2232f" stroke-width="1.2"/><line x1="57.50" y1="243.60" x2="78.50" y2="243.60" stroke="#d2232f" stroke-width="1.2"/><rect x="110.50" y="213.30" width="42.60" height="15.90" fill="none" stroke="#3a348c" stroke-width="1.2"/><line x1="110.50" y1="223.30" x2="153.10" y2="223.30" stroke="#3a348c" stroke-width="1.2"/><line x1="131.80" y1="199.30" x2="131.80" y2="213.30" stroke="#3a348c" stroke-width="1.2"/><line x1="131.80" y1="229.20" x2="131.80" y2="234.40" stroke="#3a348c" stroke-width="1.2"/><line x1="121.20" y1="199.30" x2="142.40" y2="199.30" stroke="#3a348c" stroke-width="1.2"/><line x1="121.20" y1="234.40" x2="142.40" y2="234.40" stroke="#3a348c" stroke-width="1.2"/><circle cx="131.6" cy="193.6" r="1.1" fill="#111"/><line x1="199.20" y1="181.40" x2="199.20" y2="272.65" stroke="#151515" stroke-width="1.3"/><line x1="195.90" y1="184.00" x2="199.20" y2="184.00" stroke="#151515" stroke-width="1.2"/><text x="193.90" y="187.00" font-size="8.96" text-anchor="end" font-weight="normal" fill="#222" textLength="11.12" lengthAdjust="spacingAndGlyphs" stroke="#222" stroke-width="0.12">2.0</text><line x1="195.90" y1="206.00" x2="199.20" y2="206.00" stroke="#151515" stroke-width="1.2"/><text x="193.90" y="209.00" font-size="8.96" text-anchor="end" font-weight="normal" fill="#222" textLength="11.12" lengthAdjust="spacingAndGlyphs" stroke="#222" stroke-width="0.12">1.5</text><line x1="195.90" y1="228.00" x2="199.20" y2="228.00" stroke="#151515" stroke-width="1.2"/><text x="193.90" y="231.00" font-size="8.96" text-anchor="end" font-weight="normal" fill="#222" textLength="11.12" lengthAdjust="spacingAndGlyphs" stroke="#222" stroke-width="0.12">1.0</text><line x1="195.90" y1="250.00" x2="199.20" y2="250.00" stroke="#151515" stroke-width="1.2"/><text x="193.90" y="253.00" font-size="8.96" text-anchor="end" font-weight="normal" fill="#222" textLength="11.12" lengthAdjust="spacingAndGlyphs" stroke="#222" stroke-width="0.12">0.5</text><line x1="195.90" y1="272.00" x2="199.20" y2="272.00" stroke="#151515" stroke-width="1.2"/><text x="193.90" y="275.00" font-size="8.96" text-anchor="end" font-weight="normal" fill="#222" textLength="11.12" lengthAdjust="spacingAndGlyphs" stroke="#222" stroke-width="0.12">0.0</text><line x1="198.45" y1="272.00" x2="339.50" y2="272.00" stroke="#151515" stroke-width="1.3"/><line x1="214.50" y1="272.00" x2="214.50" y2="275.00" stroke="#151515" stroke-width="1.2"/><line x1="233.00" y1="272.00" x2="233.00" y2="275.00" stroke="#151515" stroke-width="1.2"/><line x1="263.00" y1="272.00" x2="263.00" y2="275.00" stroke="#151515" stroke-width="1.2"/><line x1="281.00" y1="272.00" x2="281.00" y2="275.00" stroke="#151515" stroke-width="1.2"/><line x1="312.30" y1="272.00" x2="312.30" y2="275.00" stroke="#151515" stroke-width="1.2"/><line x1="330.00" y1="272.00" x2="330.00" y2="275.00" stroke="#151515" stroke-width="1.2"/><text x="0" y="0" font-size="8.96" text-anchor="middle" font-weight="normal" fill="#222" textLength="67.83" lengthAdjust="spacingAndGlyphs" transform="translate(179.3,227.4) rotate(-90)" stroke="#222" stroke-width="0.12">Ratio fold change</text><rect x="207.90" y="221.70" width="13.20" height="15.70" fill="none" stroke="#68a3d6" stroke-width="1.0"/><line x1="207.90" y1="226.30" x2="221.10" y2="226.30" stroke="#68a3d6" stroke-width="1.0"/><line x1="214.50" y1="209.20" x2="214.50" y2="221.70" stroke="#68a3d6" stroke-width="1.0"/><line x1="214.50" y1="237.40" x2="214.50" y2="246.40" stroke="#68a3d6" stroke-width="1.0"/><line x1="211.10" y1="209.20" x2="217.90" y2="209.20" stroke="#68a3d6" stroke-width="1.0"/><line x1="211.10" y1="246.40" x2="217.90" y2="246.40" stroke="#68a3d6" stroke-width="1.0"/><rect x="226.40" y="220.10" width="13.20" height="13.40" fill="none" stroke="#68a3d6" stroke-width="1.0"/><line x1="226.40" y1="229.10" x2="239.60" y2="229.10" stroke="#68a3d6" stroke-width="1.0"/><line x1="233.00" y1="210.50" x2="233.00" y2="220.10" stroke="#68a3d6" stroke-width="1.0"/><line x1="233.00" y1="233.50" x2="233.00" y2="247.30" stroke="#68a3d6" stroke-width="1.0"/><line x1="229.60" y1="210.50" x2="236.40" y2="210.50" stroke="#68a3d6" stroke-width="1.0"/><line x1="229.60" y1="247.30" x2="236.40" y2="247.30" stroke="#68a3d6" stroke-width="1.0"/><rect x="256.40" y="220.50" width="13.20" height="20.90" fill="none" stroke="#64a042" stroke-width="1.0"/><line x1="256.40" y1="227.00" x2="269.60" y2="227.00" stroke="#64a042" stroke-width="1.0"/><line x1="263.00" y1="199.40" x2="263.00" y2="220.50" stroke="#64a042" stroke-width="1.0"/><line x1="263.00" y1="241.40" x2="263.00" y2="245.70" stroke="#64a042" stroke-width="1.0"/><line x1="259.60" y1="199.40" x2="266.40" y2="199.40" stroke="#64a042" stroke-width="1.0"/><line x1="259.60" y1="245.70" x2="266.40" y2="245.70" stroke="#64a042" stroke-width="1.0"/><rect x="274.60" y="234.30" width="13.20" height="13.10" fill="none" stroke="#64a042" stroke-width="1.0"/><line x1="274.60" y1="240.30" x2="287.80" y2="240.30" stroke="#64a042" stroke-width="1.0"/><line x1="281.20" y1="233.00" x2="281.20" y2="234.30" stroke="#64a042" stroke-width="1.0"/><line x1="281.20" y1="247.40" x2="281.20" y2="255.10" stroke="#64a042" stroke-width="1.0"/><line x1="277.80" y1="233.00" x2="284.60" y2="233.00" stroke="#64a042" stroke-width="1.0"/><line x1="277.80" y1="255.10" x2="284.60" y2="255.10" stroke="#64a042" stroke-width="1.0"/><rect x="305.50" y="212.20" width="13.20" height="28.10" fill="none" stroke="#afb784" stroke-width="1.0"/><line x1="305.50" y1="233.30" x2="318.70" y2="233.30" stroke="#afb784" stroke-width="1.0"/><line x1="312.10" y1="201.90" x2="312.10" y2="212.20" stroke="#afb784" stroke-width="1.0"/><line x1="312.10" y1="240.30" x2="312.10" y2="249.00" stroke="#afb784" stroke-width="1.0"/><line x1="308.70" y1="201.90" x2="315.50" y2="201.90" stroke="#afb784" stroke-width="1.0"/><line x1="308.70" y1="249.00" x2="315.50" y2="249.00" stroke="#afb784" stroke-width="1.0"/><rect x="323.70" y="239.30" width="13.20" height="6.80" fill="none" stroke="#afb784" stroke-width="1.0"/><line x1="323.70" y1="242.40" x2="336.90" y2="242.40" stroke="#afb784" stroke-width="1.0"/><line x1="330.30" y1="233.00" x2="330.30" y2="239.30" stroke="#afb784" stroke-width="1.0"/><line x1="330.30" y1="246.10" x2="330.30" y2="250.90" stroke="#afb784" stroke-width="1.0"/><line x1="326.90" y1="233.00" x2="333.70" y2="233.00" stroke="#afb784" stroke-width="1.0"/><line x1="326.90" y1="250.90" x2="333.70" y2="250.90" stroke="#afb784" stroke-width="1.0"/><line x1="261.90" y1="196.90" x2="280.70" y2="196.90" stroke="#111" stroke-width="1.3"/><circle cx="271.3" cy="191.1" r="1.15" fill="#111"/><line x1="312.30" y1="199.00" x2="330.50" y2="199.00" stroke="#111" stroke-width="1.3"/><circle cx="321.5" cy="193.6" r="1.15" fill="#111"/><rect x="207.6" y="183.00" width="9.8" height="4.6" fill="#eef5fb" stroke="#68a3d6" stroke-width="1"/><text x="221.00" y="188.10" font-size="7.99" text-anchor="start" font-weight="normal" fill="#111" textLength="21.39" lengthAdjust="spacingAndGlyphs" stroke="#111" stroke-width="0.12">Thr0.1</text><rect x="207.6" y="191.85" width="9.8" height="4.6" fill="#f2f7ec" stroke="#64a042" stroke-width="1"/><text x="221.00" y="196.95" font-size="7.99" text-anchor="start" font-weight="normal" fill="#111" textLength="15.22" lengthAdjust="spacingAndGlyphs" stroke="#111" stroke-width="0.12">Thr1</text><rect x="207.6" y="200.70" width="9.8" height="4.6" fill="#f7f8ef" stroke="#afb784" stroke-width="1"/><text x="221.00" y="205.80" font-size="7.99" text-anchor="start" font-weight="normal" fill="#111" textLength="19.33" lengthAdjust="spacingAndGlyphs" stroke="#111" stroke-width="0.12">Thr10</text><text x="0" y="0" font-size="8.42" text-anchor="end" font-weight="normal" fill="#222" textLength="25.14" lengthAdjust="spacingAndGlyphs" transform="translate(219.10,281.8) rotate(-45)" stroke="#222" stroke-width="0.12">Control</text><text x="0" y="0" font-size="8.42" text-anchor="end" font-weight="normal" fill="#222" textLength="25.14" lengthAdjust="spacingAndGlyphs" transform="translate(267.60,281.8) rotate(-45)" stroke="#222" stroke-width="0.12">Control</text><text x="0" y="0" font-size="8.42" text-anchor="end" font-weight="normal" fill="#222" textLength="25.14" lengthAdjust="spacingAndGlyphs" transform="translate(316.90,281.8) rotate(-45)" stroke="#222" stroke-width="0.12">Control</text><text x="0" y="0" font-size="8.42" text-anchor="end" font-weight="normal" fill="#222" textLength="35.97" lengthAdjust="spacingAndGlyphs" transform="translate(237.60,281.8) rotate(-45)" stroke="#222" stroke-width="0.12">WDR1 KD</text><text x="0" y="0" font-size="8.42" text-anchor="end" font-weight="normal" fill="#222" textLength="35.97" lengthAdjust="spacingAndGlyphs" transform="translate(285.60,281.8) rotate(-45)" stroke="#222" stroke-width="0.12">WDR1 KD</text><text x="0" y="0" font-size="8.42" text-anchor="end" font-weight="normal" fill="#222" textLength="35.97" lengthAdjust="spacingAndGlyphs" transform="translate(334.60,281.8) rotate(-45)" stroke="#222" stroke-width="0.12">WDR1 KD</text><line x1="365.90" y1="181.40" x2="365.90" y2="272.65" stroke="#151515" stroke-width="1.3"/><line x1="362.60" y1="184.00" x2="365.90" y2="184.00" stroke="#151515" stroke-width="1.2"/><text x="360.60" y="187.00" font-size="8.96" text-anchor="end" font-weight="normal" fill="#222" textLength="11.12" lengthAdjust="spacingAndGlyphs" stroke="#222" stroke-width="0.12">2.0</text><line x1="362.60" y1="206.00" x2="365.90" y2="206.00" stroke="#151515" stroke-width="1.2"/><text x="360.60" y="209.00" font-size="8.96" text-anchor="end" font-weight="normal" fill="#222" textLength="11.12" lengthAdjust="spacingAndGlyphs" stroke="#222" stroke-width="0.12">1.5</text><line x1="362.60" y1="228.00" x2="365.90" y2="228.00" stroke="#151515" stroke-width="1.2"/><text x="360.60" y="231.00" font-size="8.96" text-anchor="end" font-weight="normal" fill="#222" textLength="11.12" lengthAdjust="spacingAndGlyphs" stroke="#222" stroke-width="0.12">1.0</text><line x1="362.60" y1="250.00" x2="365.90" y2="250.00" stroke="#151515" stroke-width="1.2"/><text x="360.60" y="253.00" font-size="8.96" text-anchor="end" font-weight="normal" fill="#222" textLength="11.12" lengthAdjust="spacingAndGlyphs" stroke="#222" stroke-width="0.12">0.5</text><line x1="362.60" y1="272.00" x2="365.90" y2="272.00" stroke="#151515" stroke-width="1.2"/><text x="360.60" y="275.00" font-size="8.96" text-anchor="end" font-weight="normal" fill="#222" textLength="11.12" lengthAdjust="spacingAndGlyphs" stroke="#222" stroke-width="0.12">0.0</text><line x1="365.15" y1="272.00" x2="506.00" y2="272.00" stroke="#151515" stroke-width="1.3"/><line x1="381.00" y1="272.00" x2="381.00" y2="275.00" stroke="#151515" stroke-width="1.2"/><line x1="399.30" y1="272.00" x2="399.30" y2="275.00" stroke="#151515" stroke-width="1.2"/><line x1="430.00" y1="272.00" x2="430.00" y2="275.00" stroke="#151515" stroke-width="1.2"/><line x1="448.00" y1="272.00" x2="448.00" y2="275.00" stroke="#151515" stroke-width="1.2"/><line x1="478.80" y1="272.00" x2="478.80" y2="275.00" stroke="#151515" stroke-width="1.2"/><line x1="496.60" y1="272.00" x2="496.60" y2="275.00" stroke="#151515" stroke-width="1.2"/><rect x="374.40" y="220.80" width="13.20" height="17.00" fill="none" stroke="#68a3d6" stroke-width="1.0"/><line x1="374.40" y1="226.10" x2="387.60" y2="226.10" stroke="#68a3d6" stroke-width="1.0"/><line x1="381.00" y1="204.40" x2="381.00" y2="220.80" stroke="#68a3d6" stroke-width="1.0"/><line x1="381.00" y1="237.80" x2="381.00" y2="250.80" stroke="#68a3d6" stroke-width="1.0"/><line x1="377.60" y1="204.40" x2="384.40" y2="204.40" stroke="#68a3d6" stroke-width="1.0"/><line x1="377.60" y1="250.80" x2="384.40" y2="250.80" stroke="#68a3d6" stroke-width="1.0"/><rect x="392.70" y="218.60" width="13.20" height="21.10" fill="none" stroke="#68a3d6" stroke-width="1.0"/><line x1="392.70" y1="231.00" x2="405.90" y2="231.00" stroke="#68a3d6" stroke-width="1.0"/><line x1="399.30" y1="211.50" x2="399.30" y2="218.60" stroke="#68a3d6" stroke-width="1.0"/><line x1="399.30" y1="239.70" x2="399.30" y2="251.40" stroke="#68a3d6" stroke-width="1.0"/><line x1="395.90" y1="211.50" x2="402.70" y2="211.50" stroke="#68a3d6" stroke-width="1.0"/><line x1="395.90" y1="251.40" x2="402.70" y2="251.40" stroke="#68a3d6" stroke-width="1.0"/><rect x="423.30" y="217.60" width="13.20" height="20.50" fill="none" stroke="#64a042" stroke-width="1.0"/><line x1="423.30" y1="228.20" x2="436.50" y2="228.20" stroke="#64a042" stroke-width="1.0"/><line x1="429.90" y1="207.50" x2="429.90" y2="217.60" stroke="#64a042" stroke-width="1.0"/><line x1="429.90" y1="238.10" x2="429.90" y2="247.70" stroke="#64a042" stroke-width="1.0"/><line x1="426.50" y1="207.50" x2="433.30" y2="207.50" stroke="#64a042" stroke-width="1.0"/><line x1="426.50" y1="247.70" x2="433.30" y2="247.70" stroke="#64a042" stroke-width="1.0"/><rect x="441.50" y="226.60" width="13.20" height="14.00" fill="none" stroke="#64a042" stroke-width="1.0"/><line x1="441.50" y1="235.30" x2="454.70" y2="235.30" stroke="#64a042" stroke-width="1.0"/><line x1="448.10" y1="207.50" x2="448.10" y2="226.60" stroke="#64a042" stroke-width="1.0"/><line x1="448.10" y1="240.60" x2="448.10" y2="246.20" stroke="#64a042" stroke-width="1.0"/><line x1="444.70" y1="207.50" x2="451.50" y2="207.50" stroke="#64a042" stroke-width="1.0"/><line x1="444.70" y1="246.20" x2="451.50" y2="246.20" stroke="#64a042" stroke-width="1.0"/><rect x="472.40" y="214.10" width="13.20" height="29.50" fill="none" stroke="#afb784" stroke-width="1.0"/><line x1="472.40" y1="231.00" x2="485.60" y2="231.00" stroke="#afb784" stroke-width="1.0"/><line x1="479.00" y1="193.60" x2="479.00" y2="214.10" stroke="#afb784" stroke-width="1.0"/><line x1="479.00" y1="243.60" x2="479.00" y2="250.50" stroke="#afb784" stroke-width="1.0"/><line x1="475.60" y1="193.60" x2="482.40" y2="193.60" stroke="#afb784" stroke-width="1.0"/><line x1="475.60" y1="250.50" x2="482.40" y2="250.50" stroke="#afb784" stroke-width="1.0"/><rect x="490.60" y="232.50" width="13.20" height="12.20" fill="none" stroke="#afb784" stroke-width="1.0"/><line x1="490.60" y1="238.20" x2="503.80" y2="238.20" stroke="#afb784" stroke-width="1.0"/><line x1="497.20" y1="219.90" x2="497.20" y2="232.50" stroke="#afb784" stroke-width="1.0"/><line x1="497.20" y1="244.70" x2="497.20" y2="251.80" stroke="#afb784" stroke-width="1.0"/><line x1="493.80" y1="219.90" x2="500.60" y2="219.90" stroke="#afb784" stroke-width="1.0"/><line x1="493.80" y1="251.80" x2="500.60" y2="251.80" stroke="#afb784" stroke-width="1.0"/><text x="0" y="0" font-size="8.42" text-anchor="end" font-weight="normal" fill="#222" textLength="25.14" lengthAdjust="spacingAndGlyphs" transform="translate(385.60,281.8) rotate(-45)" stroke="#222" stroke-width="0.12">Control</text><text x="0" y="0" font-size="8.42" text-anchor="end" font-weight="normal" fill="#222" textLength="25.14" lengthAdjust="spacingAndGlyphs" transform="translate(434.60,281.8) rotate(-45)" stroke="#222" stroke-width="0.12">Control</text><text x="0" y="0" font-size="8.42" text-anchor="end" font-weight="normal" fill="#222" textLength="25.14" lengthAdjust="spacingAndGlyphs" transform="translate(483.40,281.8) rotate(-45)" stroke="#222" stroke-width="0.12">Control</text><text x="0" y="0" font-size="8.42" text-anchor="end" font-weight="normal" fill="#222" textLength="35.97" lengthAdjust="spacingAndGlyphs" transform="translate(403.90,281.8) rotate(-45)" stroke="#222" stroke-width="0.12">WDR1 KD</text><text x="0" y="0" font-size="8.42" text-anchor="end" font-weight="normal" fill="#222" textLength="35.97" lengthAdjust="spacingAndGlyphs" transform="translate(452.60,281.8) rotate(-45)" stroke="#222" stroke-width="0.12">WDR1 KD</text><text x="0" y="0" font-size="8.42" text-anchor="end" font-weight="normal" fill="#222" textLength="35.97" lengthAdjust="spacingAndGlyphs" transform="translate(501.20,281.8) rotate(-45)" stroke="#222" stroke-width="0.12">WDR1 KD</text><rect x="0.65" y="0.65" width="517.6" height="310.9" fill="none" stroke="#000" stroke-width="1.3"/><rect x="518.2" y="0" width="1.8" height="313" fill="#000"/><rect x="0" y="310.8" width="520" height="2.2" fill="#000"/></g></svg>
</body></html>
